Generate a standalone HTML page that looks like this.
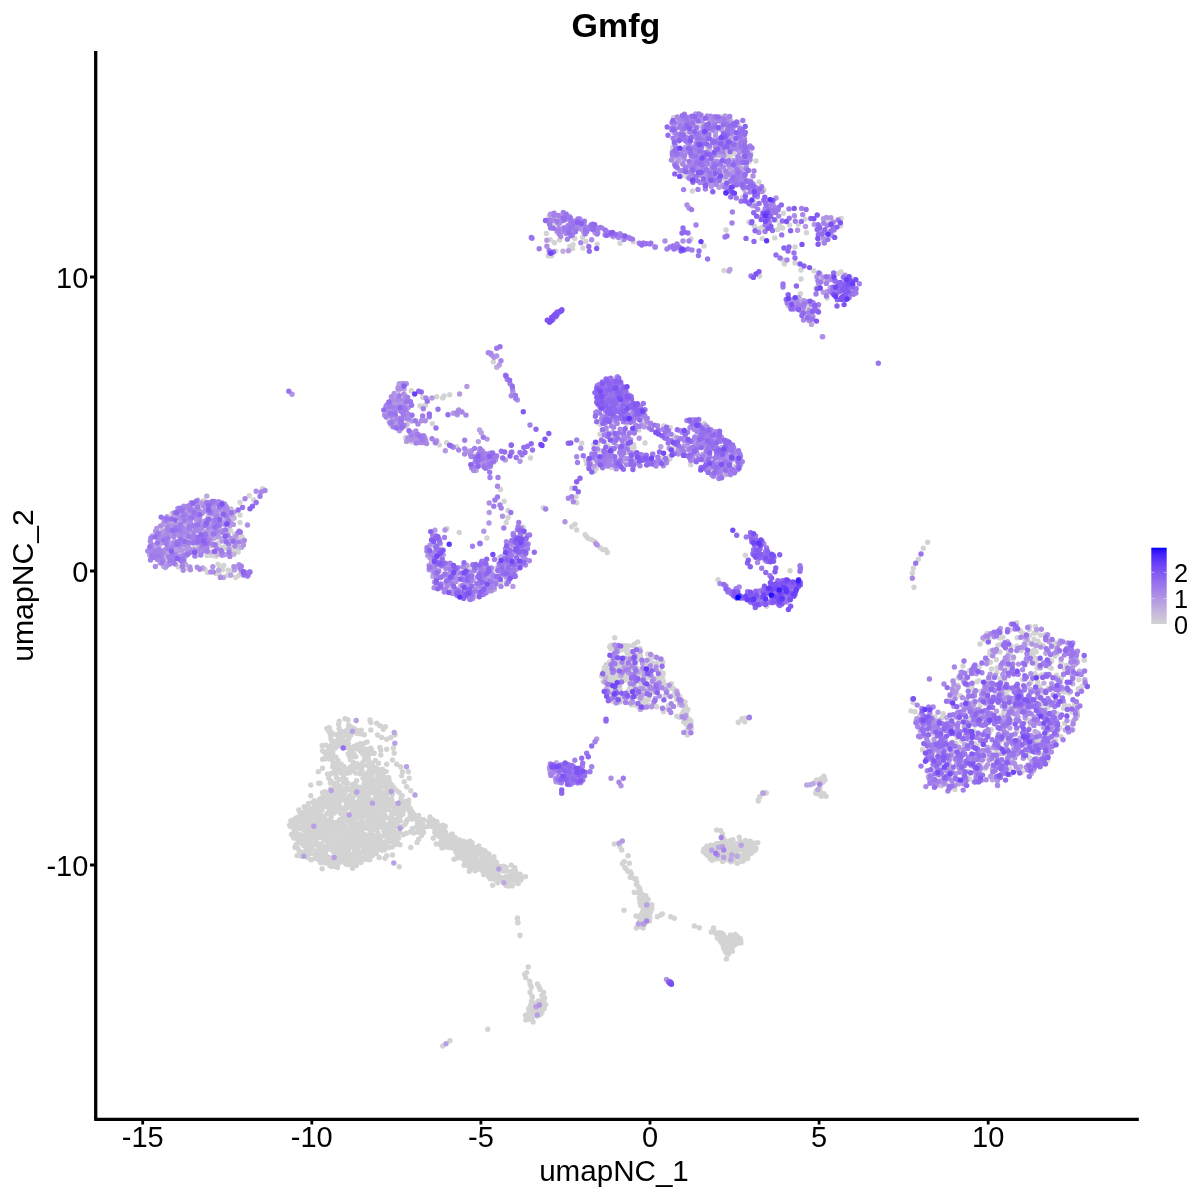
<!DOCTYPE html>
<html><head><meta charset="utf-8"><title>Gmfg</title>
<style>
html,body{margin:0;padding:0;background:#fff}
svg{display:block}
text{font-family:"Liberation Sans",sans-serif;fill:#000}
.pt path{fill:none;stroke-width:5.4;stroke-linecap:round}
.c0{stroke:#d3d3d3}.c1{stroke:#d0cdd5}.c2{stroke:#cdc6d7}.c3{stroke:#cac0d9}.c4{stroke:#c7badb}.c5{stroke:#c3b3dc}.c6{stroke:#c0adde}.c7{stroke:#bca7e0}.c8{stroke:#b9a0e2}.c9{stroke:#b59ae3}.c10{stroke:#b194e5}.c11{stroke:#ad8de6}.c12{stroke:#a887e8}.c13{stroke:#a481ea}.c14{stroke:#9f7aeb}.c15{stroke:#9a74ed}.c16{stroke:#956eee}.c17{stroke:#9067ef}.c18{stroke:#8a61f1}.c19{stroke:#845af2}.c20{stroke:#7e53f4}.c21{stroke:#774df5}.c22{stroke:#7046f6}.c23{stroke:#683ff8}.c24{stroke:#5f37f9}.c25{stroke:#5630fa}.c26{stroke:#4a27fb}.c27{stroke:#3d1efd}.c28{stroke:#2a12fe}.c29{stroke:#0000ff}
</style></head><body>
<svg width="1200" height="1200" viewBox="0 0 1200 1200">
<defs><linearGradient id="lg" x1="0" y1="0" x2="0" y2="1"><stop offset="0.000" stop-color="#0000ff"/><stop offset="0.050" stop-color="#3318fd"/><stop offset="0.100" stop-color="#4926fb"/><stop offset="0.150" stop-color="#5932fa"/><stop offset="0.200" stop-color="#673df8"/><stop offset="0.250" stop-color="#7248f6"/><stop offset="0.300" stop-color="#7c51f4"/><stop offset="0.350" stop-color="#855bf2"/><stop offset="0.400" stop-color="#8e65f0"/><stop offset="0.450" stop-color="#966eee"/><stop offset="0.500" stop-color="#9d77ec"/><stop offset="0.550" stop-color="#a480ea"/><stop offset="0.600" stop-color="#aa89e7"/><stop offset="0.650" stop-color="#b093e5"/><stop offset="0.700" stop-color="#b69ce3"/><stop offset="0.750" stop-color="#bba5e0"/><stop offset="0.800" stop-color="#c1aede"/><stop offset="0.850" stop-color="#c6b7db"/><stop offset="0.900" stop-color="#cac0d9"/><stop offset="0.950" stop-color="#cfcad6"/><stop offset="1.000" stop-color="#d3d3d3"/></linearGradient></defs>
<rect width="1200" height="1200" fill="#fff"/>
<g class="pt">
<path class="c0" d="M819.5 241.0h0M632.4 663.1h0M351.2 828.1h0M960.4 695.7h0M683.6 722.0h0M1048.3 666.4h0M342.7 854.0h0M349.8 747.9h0M719.0 182.2h0M373.8 792.1h0M622.6 699.5h0M353.3 732.1h0M603.7 671.2h0M355.1 794.9h0M221.4 504.6h0M676.7 699.6h0M826.2 796.2h0M361.7 824.6h0M434.5 825.5h0M729.9 190.2h0M1064.5 704.8h0M827.0 298.0h0M372.9 827.9h0M405.4 437.8h0M363.4 791.6h0M355.5 767.6h0M354.5 861.3h0M314.9 838.0h0M1083.9 660.1h0M645.7 704.3h0M341.6 799.9h0M196.2 555.7h0M323.8 856.4h0M335.0 795.7h0M642.9 895.6h0M345.9 801.2h0M458.5 857.0h0M350.4 854.5h0M636.0 916.0h0M472.0 588.3h0M348.5 816.7h0M1029.2 720.2h0M502.3 869.1h0M372.6 788.0h0M401.9 812.7h0M647.1 917.1h0M351.8 819.4h0M576.7 530.0h0M398.6 838.1h0M646.1 678.5h0M484.8 850.7h0M520.8 880.1h0M371.4 750.5h0M647.8 653.9h0M372.5 820.2h0M1061.3 677.9h0M334.9 861.2h0M959.5 721.6h0M330.9 731.7h0M333.9 829.0h0M205.1 569.4h0M322.3 835.6h0M688.1 722.3h0M331.0 844.4h0M184.1 517.3h0M523.1 527.2h0M758.3 801.0h0M546.4 233.4h0M380.0 815.7h0M1029.6 626.5h0M764.0 190.0h0M641.3 685.0h0M495.7 864.4h0M385.2 791.9h0M615.8 699.9h0M814.0 271.0h0M980.0 713.8h0M367.1 759.6h0M459.2 532.5h0M291.2 823.4h0M349.1 748.4h0M356.5 852.8h0M431.9 826.4h0M468.6 567.1h0M347.6 798.5h0M475.6 455.1h0M686.9 732.2h0M679.4 705.0h0M382.2 792.0h0M375.4 817.1h0M318.0 825.0h0M443.4 838.1h0M408.0 804.8h0M366.3 812.3h0M744.3 851.5h0M493.4 866.5h0M484.4 864.6h0M1034.8 658.3h0M539.0 1013.4h0M293.8 838.1h0M968.0 686.0h0M823.3 781.7h0M501.0 582.3h0M520.0 535.5h0M1041.1 705.8h0M373.5 845.1h0M480.8 861.7h0M364.2 834.2h0M231.1 521.2h0M972.9 689.5h0M338.9 831.7h0M349.9 799.9h0M350.2 857.1h0M358.9 767.4h0M306.6 816.1h0M305.6 831.5h0M339.1 788.9h0M1005.6 734.9h0M746.7 844.6h0M411.2 441.8h0M332.3 802.3h0M747.5 858.3h0M1001.9 718.2h0M825.0 780.0h0M370.2 769.7h0M334.7 800.0h0M1047.4 722.3h0M307.2 822.7h0M335.4 864.3h0M305.3 824.1h0M343.3 825.6h0M328.2 795.9h0M382.9 800.4h0M525.7 977.6h0M933.3 767.2h0M375.1 798.5h0M332.2 865.8h0M300.8 856.1h0M323.8 820.1h0M483.7 874.5h0M384.6 810.6h0M766.0 792.7h0M296.1 844.7h0M729.1 941.5h0M385.6 798.0h0M490.9 859.3h0M196.5 547.8h0M946.8 784.6h0M305.8 856.0h0M439.3 444.9h0M968.3 771.4h0M465.0 846.4h0M298.8 842.9h0M316.0 808.0h0M357.3 746.2h0M483.6 868.6h0M994.2 713.9h0M379.9 799.9h0M614.0 680.1h0M620.0 688.5h0M385.9 841.7h0M1034.0 701.8h0M359.3 813.4h0M360.6 765.1h0M358.4 791.7h0M722.9 173.3h0M820.0 787.5h0M1011.3 755.8h0M1069.0 693.1h0M382.6 842.2h0M374.7 767.4h0M713.9 851.2h0M1078.8 679.7h0M647.4 904.0h0M498.1 873.6h0M499.2 880.3h0M355.4 789.2h0M207.1 555.5h0M479.9 868.0h0M437.9 559.1h0M647.4 911.2h0M340.3 740.6h0M525.4 1015.2h0M690.9 721.0h0M721.8 177.4h0M389.8 799.7h0M744.5 842.7h0M300.9 821.5h0M439.2 831.5h0M305.7 846.9h0M660.6 671.1h0M340.1 797.9h0M358.2 749.2h0M614.7 637.7h0M337.6 745.2h0M649.3 696.4h0M716.1 856.0h0M538.9 1015.2h0M451.6 840.8h0M1010.3 707.0h0M369.3 839.5h0M352.9 840.6h0M249.2 495.8h0M361.0 733.9h0M347.2 829.5h0M681.9 151.9h0M433.2 838.3h0M344.4 793.8h0M331.8 821.6h0M338.4 785.6h0M318.7 804.1h0M304.5 811.7h0M737.2 863.2h0M477.6 855.1h0M358.0 807.8h0M503.3 871.1h0M648.2 699.8h0M1028.3 751.9h0M349.0 738.1h0M683.3 711.4h0M362.2 800.0h0M1007.1 667.6h0M380.0 747.5h0M367.6 813.9h0M393.6 409.3h0M337.5 763.9h0M335.9 858.3h0M406.0 426.3h0M352.3 816.7h0M336.4 777.8h0M766.3 793.0h0M744.7 721.7h0M1026.8 720.7h0M641.5 914.3h0M632.9 669.4h0M613.1 648.1h0M725.4 181.8h0M618.6 648.5h0M624.1 677.3h0M528.2 967.0h0M210.3 529.1h0M317.8 817.8h0M640.0 902.4h0M401.6 805.9h0M324.2 752.2h0M735.6 850.9h0M366.9 783.9h0M820.8 792.5h0M328.5 833.7h0M478.7 845.9h0M387.0 837.4h0M724.0 474.0h0M320.2 851.7h0M361.3 820.1h0M1009.0 716.9h0M523.7 534.3h0M626.1 868.7h0M170.9 521.9h0M572.6 248.6h0M309.3 811.4h0M314.0 811.3h0M177.7 554.3h0M207.6 572.6h0M401.6 401.4h0M404.2 781.7h0M374.2 753.3h0M512.4 570.1h0M226.3 539.5h0M330.6 825.8h0M227.6 575.3h0M362.0 787.9h0M735.9 944.0h0M640.9 669.7h0M402.5 808.4h0M338.8 802.2h0M726.4 958.9h0M713.1 855.4h0M222.5 569.5h0M472.1 842.6h0M337.2 783.6h0M613.9 677.1h0M198.5 554.3h0M333.7 806.8h0M357.7 834.4h0M382.6 783.4h0M745.4 853.8h0M371.2 837.5h0M498.3 584.5h0M614.3 844.0h0M588.0 538.3h0M178.3 552.0h0M996.2 695.9h0M342.6 833.1h0M385.4 783.0h0M604.7 673.3h0M378.0 833.0h0M349.0 862.2h0M623.8 645.4h0M822.5 782.5h0M383.9 835.4h0M357.8 749.0h0M352.4 791.1h0M319.7 843.9h0M663.3 680.6h0M554.5 242.8h0M369.9 784.1h0M520.0 935.5h0M771.4 216.1h0M342.0 850.8h0M759.0 182.0h0M635.3 665.5h0M396.8 818.8h0M969.3 719.6h0M294.8 834.3h0M343.5 808.7h0M413.8 814.4h0M482.3 870.4h0M823.8 776.2h0M340.1 737.4h0M363.4 837.2h0M386.7 855.8h0M721.5 846.6h0M681.8 175.7h0M345.1 718.8h0M380.7 777.3h0M324.8 791.8h0M918.3 559.3h0M1042.0 692.7h0M719.5 854.4h0M224.4 548.4h0M691.0 239.0h0M365.9 789.6h0M821.7 779.2h0M640.2 890.5h0M670.2 427.7h0M1003.7 712.0h0M725.9 943.4h0M540.8 1013.9h0M302.9 840.6h0M607.3 671.3h0M639.6 921.8h0M722.2 841.9h0M370.8 730.0h0M486.4 867.6h0M350.2 728.7h0M1042.7 715.6h0M723.6 934.7h0M366.1 824.2h0M373.6 813.0h0M371.3 809.1h0M377.3 797.8h0M378.1 784.5h0M639.8 653.7h0M310.2 846.4h0M409.2 778.3h0M948.1 721.4h0M690.8 464.7h0M634.6 457.5h0M1009.8 768.6h0M733.4 846.1h0M1069.0 706.3h0M310.4 831.9h0M783.0 260.0h0M640.1 894.9h0M649.5 914.6h0M351.5 861.0h0M672.4 450.4h0M348.8 733.4h0M495.5 870.0h0M573.2 229.5h0M486.5 873.1h0M312.5 813.0h0M738.8 125.7h0M1064.9 692.0h0M540.2 1007.8h0M576.0 496.7h0M343.3 847.7h0M672.7 147.2h0M497.9 876.6h0M633.6 444.6h0M506.2 522.5h0M732.3 854.1h0M332.3 758.6h0M994.3 759.3h0M726.6 953.3h0M581.7 443.3h0M716.0 859.0h0M232.4 547.2h0M531.6 1016.4h0M223.8 565.5h0M520.0 874.3h0M841.1 218.5h0M359.2 823.7h0M385.0 777.5h0M330.4 789.0h0M221.9 547.4h0M490.0 869.9h0M326.0 835.5h0M514.7 867.6h0M346.7 745.8h0M650.0 659.5h0M322.5 768.3h0M355.2 830.8h0M676.7 716.3h0M1082.6 685.9h0M472.1 574.2h0M343.8 856.0h0M361.2 748.0h0M444.0 396.0h0M681.7 714.7h0M485.9 852.5h0M591.5 539.6h0M998.6 754.3h0M351.2 804.5h0M1008.5 705.5h0M709.1 132.0h0M406.5 801.9h0M622.7 669.0h0M724.2 839.2h0M953.6 756.4h0M765.3 225.5h0M365.8 845.8h0M582.6 237.2h0M333.2 762.8h0M789.6 225.0h0M357.3 730.4h0M319.1 821.6h0M983.0 722.8h0M956.0 743.4h0M366.7 859.2h0M647.2 425.9h0M710.4 848.0h0M213.8 517.0h0M369.9 770.7h0M345.1 837.3h0M613.3 403.4h0M303.5 826.3h0M1040.4 635.3h0M323.3 846.1h0M231.4 551.7h0M410.1 808.3h0M297.6 828.6h0M492.9 869.2h0M618.1 666.9h0M719.9 843.3h0M488.0 863.1h0M729.5 951.4h0M340.9 813.8h0M710.1 858.5h0M957.1 689.3h0M306.4 813.5h0M704.0 246.0h0M643.1 676.7h0M311.7 819.0h0M693.7 134.3h0M366.2 800.7h0M1001.0 644.1h0M375.5 760.4h0M477.6 869.4h0M1040.5 644.4h0M979.8 701.4h0M649.7 918.0h0M1022.2 772.0h0M321.9 806.9h0M951.7 757.7h0M312.0 843.6h0M385.3 726.7h0M686.8 711.5h0M380.8 750.0h0M740.9 164.2h0M457.2 854.1h0M451.7 847.9h0M670.7 916.7h0M211.6 555.5h0M390.8 737.5h0M828.3 220.5h0M653.2 656.9h0M1037.1 668.0h0M913.3 568.3h0M343.3 779.8h0M309.0 807.8h0M348.6 846.9h0M355.8 814.4h0M756.0 161.0h0M716.1 933.7h0M1007.0 695.4h0M457.1 839.9h0M336.8 800.1h0M974.9 743.6h0M710.0 851.6h0M363.8 849.9h0M988.9 639.8h0M422.8 824.4h0M671.5 683.7h0M339.3 841.7h0M292.9 820.3h0M333.7 852.0h0M528.2 1015.5h0M410.8 790.8h0M728.6 156.8h0M230.3 541.1h0M418.2 831.0h0M627.9 871.6h0M699.3 927.7h0M732.1 947.6h0M458.7 850.0h0M377.6 769.0h0M817.5 793.8h0M338.5 740.4h0M758.3 800.0h0M340.1 826.3h0M751.8 853.1h0M673.4 117.6h0M517.7 877.2h0M319.6 827.1h0M328.1 835.7h0M313.8 845.0h0M377.5 840.5h0M387.2 834.4h0M379.4 796.7h0M314.3 805.7h0M463.0 855.9h0M434.8 832.3h0M586.3 536.2h0M646.8 906.9h0M499.8 866.5h0M729.3 859.9h0M661.3 458.5h0M1064.6 723.4h0M544.5 997.6h0M469.8 846.2h0M423.6 827.4h0M372.2 802.9h0M427.7 826.4h0M728.1 946.9h0M744.2 848.5h0M740.4 855.6h0M496.5 871.8h0M610.9 648.7h0M1076.5 718.2h0M363.5 774.3h0M544.2 1008.8h0M626.8 645.8h0M242.2 537.0h0M713.7 848.4h0M317.1 831.2h0M454.0 859.3h0M674.3 918.3h0M1047.3 733.0h0M325.5 758.7h0M473.0 867.9h0M349.3 829.3h0M460.9 855.2h0M775.7 220.0h0M544.1 1008.1h0M719.5 932.6h0M479.7 866.0h0M350.3 747.7h0M337.7 766.8h0M673.7 695.3h0M610.7 436.6h0M714.5 931.8h0M321.6 825.6h0M748.2 846.1h0M355.9 756.8h0M705.8 853.7h0M320.3 813.9h0M383.3 729.2h0M448.7 839.8h0M297.0 837.8h0M740.6 858.8h0M758.0 229.0h0M624.0 662.0h0M330.0 837.0h0M378.2 824.6h0M389.4 847.5h0M1049.6 745.9h0M442.7 1046.0h0M739.5 170.2h0M433.6 822.4h0M719.7 858.6h0M363.6 765.3h0M510.9 871.5h0M638.8 429.9h0M685.0 702.0h0M674.8 690.4h0M479.0 572.2h0M360.3 743.6h0M383.5 780.8h0M1071.2 652.0h0M345.6 809.1h0M377.0 811.0h0M962.8 711.4h0M529.1 1011.6h0M1069.6 671.9h0M372.1 806.4h0M537.1 1003.8h0M721.6 933.1h0M387.2 847.1h0M987.1 633.5h0M493.3 871.7h0M308.2 848.9h0M346.1 805.8h0M981.7 756.3h0M374.9 771.4h0M1008.1 689.8h0M342.6 836.5h0M720.8 830.8h0M318.3 857.9h0M303.9 829.7h0M342.3 738.6h0M990.4 662.2h0M999.9 652.0h0M388.3 792.8h0M382.9 819.7h0M347.1 820.8h0M432.4 423.6h0M643.9 699.5h0M319.1 860.3h0M476.7 596.3h0M381.8 817.7h0M755.0 850.4h0M724.9 937.9h0M325.9 745.3h0M927.7 542.3h0M627.0 652.8h0M564.7 231.4h0M342.4 839.4h0M716.7 130.1h0M342.1 731.8h0M705.2 851.1h0M510.4 884.8h0M310.8 814.9h0M380.1 788.0h0M371.2 841.9h0M700.1 156.9h0M1064.7 669.1h0M689.1 719.3h0M312.9 836.7h0M321.6 828.3h0M539.9 1003.2h0M729.9 857.9h0M1078.2 689.0h0M617.1 670.0h0M943.3 713.6h0M362.7 762.8h0M291.5 834.5h0M646.3 898.0h0M543.7 1001.3h0M442.0 848.0h0M393.7 803.3h0M977.1 681.8h0M951.0 723.6h0M292.9 826.2h0M669.5 456.7h0M720.9 851.3h0M662.3 914.0h0M289.6 825.3h0M307.3 852.8h0M648.9 908.6h0M1011.0 646.3h0M370.4 812.0h0M526.6 972.6h0M468.0 861.7h0M737.1 853.5h0M936.0 771.2h0M321.9 810.3h0M504.5 879.7h0M735.6 857.8h0M616.7 665.0h0M716.0 850.6h0M234.0 518.4h0M524.7 974.4h0M361.5 792.7h0M364.5 749.0h0M1022.7 698.7h0M346.7 732.4h0M308.5 826.7h0M348.0 720.0h0M669.9 459.1h0M704.1 446.7h0M996.6 751.3h0M725.1 132.5h0M525.9 1019.9h0M324.0 816.4h0M398.9 820.7h0M472.2 845.9h0M326.9 820.1h0M378.3 835.8h0M335.7 773.8h0M302.3 817.4h0M641.5 700.4h0M363.9 825.6h0M738.9 139.2h0M377.6 776.6h0M359.0 836.2h0M302.8 837.4h0M726.9 846.7h0M355.6 842.7h0M307.8 854.9h0M312.6 831.9h0M442.5 557.3h0M980.1 706.5h0M997.0 668.0h0M643.3 420.2h0M397.2 842.7h0M373.8 835.4h0M619.3 668.8h0M730.1 845.8h0M329.2 727.8h0M504.2 501.2h0M748.4 842.5h0M455.9 851.9h0M633.2 241.7h0M575.0 524.3h0M370.0 847.6h0M530.3 984.8h0M334.5 745.9h0M520.0 935.3h0M1039.9 686.6h0M493.0 463.1h0M1041.6 765.0h0M218.0 564.1h0M1071.9 711.7h0M1077.4 712.5h0M343.4 819.7h0M332.9 752.0h0M378.6 790.8h0M353.0 863.6h0M326.9 728.5h0M343.2 816.3h0M612.3 701.0h0M363.6 844.8h0M400.2 816.7h0M932.3 718.7h0M486.2 869.9h0M387.4 830.2h0M357.4 825.7h0M731.2 130.4h0M450.8 592.4h0M588.7 466.4h0M530.5 458.0h0M365.1 827.6h0M1059.9 727.7h0M345.7 731.0h0M466.0 854.2h0M216.0 573.5h0M707.4 851.3h0M320.1 855.2h0M639.6 694.5h0M662.7 662.0h0M326.1 838.9h0M816.2 791.2h0M377.8 807.3h0M303.7 845.5h0M362.9 807.5h0M370.4 843.8h0M730.3 840.6h0M736.6 941.2h0M393.7 839.7h0M327.6 831.3h0M1071.5 670.5h0M339.7 819.7h0M149.3 551.9h0M378.9 773.2h0M494.1 583.5h0M351.6 727.4h0M631.8 704.9h0M353.2 828.7h0M574.8 238.5h0M331.9 742.3h0M1029.6 758.0h0M362.4 773.4h0M637.6 659.8h0M461.8 844.0h0M644.5 924.4h0M306.3 850.4h0M1038.8 676.2h0M364.7 842.1h0M451.2 834.1h0M916.5 723.3h0M639.5 888.4h0M747.7 596.5h0M740.8 941.0h0M1011.8 720.7h0M393.8 842.8h0M620.1 435.3h0M420.7 829.4h0M349.1 789.8h0M645.5 662.4h0M1006.6 739.6h0M230.8 571.1h0M323.3 837.9h0M301.5 843.2h0M370.2 853.0h0M412.6 812.8h0M218.0 546.8h0M382.0 805.1h0M629.3 646.1h0M467.3 842.2h0M1030.7 682.2h0M354.9 792.4h0M368.4 758.9h0M492.7 885.3h0M362.9 754.3h0M673.4 688.4h0M351.8 833.9h0M243.5 575.6h0M972.9 772.7h0M262.5 488.8h0M485.2 862.5h0M296.7 826.7h0M401.7 775.8h0M957.1 737.7h0M643.5 917.3h0M434.4 827.6h0M451.3 588.2h0M654.9 464.2h0M367.3 786.1h0M454.5 841.4h0M740.8 942.9h0M645.4 922.6h0M914.0 587.3h0M1056.6 675.1h0M240.0 515.0h0M997.3 726.1h0M341.1 735.2h0M327.1 847.0h0M537.4 984.0h0M519.8 876.6h0M363.8 743.4h0M308.2 817.7h0M607.0 679.3h0M368.0 772.2h0M372.5 848.3h0M391.0 841.3h0M607.5 673.5h0M487.0 538.0h0M376.1 812.8h0M408.3 771.7h0M559.6 240.1h0M312.9 808.3h0M339.2 804.8h0M468.2 866.1h0M818.8 781.2h0M611.3 680.4h0M326.6 850.1h0M821.7 795.8h0M343.4 777.0h0M716.2 848.6h0M348.6 864.6h0M651.8 904.6h0M634.3 878.5h0M337.3 744.5h0M406.1 821.9h0M308.7 830.2h0M795.0 247.0h0M355.9 745.7h0M1037.4 659.0h0M554.8 217.9h0M240.0 502.5h0M350.5 759.7h0M732.2 950.7h0M377.0 847.4h0M211.6 545.9h0M369.3 780.3h0M642.2 920.9h0M732.8 839.8h0M629.2 676.4h0M350.7 751.4h0M375.9 837.0h0M386.8 779.9h0M628.5 680.0h0M1029.3 642.8h0M1041.8 675.0h0M744.4 167.8h0M361.4 846.1h0M991.3 729.6h0M593.8 444.4h0M440.7 844.9h0M724.6 174.0h0M373.9 815.2h0M172.0 513.5h0M718.0 579.7h0M305.1 818.3h0M352.5 858.6h0M641.4 922.8h0M380.1 838.8h0M403.3 834.8h0M417.5 441.5h0M352.0 786.4h0M421.7 835.4h0M317.9 845.2h0M629.7 688.2h0M532.1 1007.2h0M736.5 856.0h0M364.5 775.4h0M1017.2 637.8h0M645.8 895.8h0M733.1 850.0h0M316.2 812.3h0M506.6 580.4h0M367.0 774.9h0M372.7 773.3h0M347.9 803.1h0M1057.6 731.0h0M345.9 843.3h0M952.4 770.6h0M339.2 862.8h0M634.0 447.5h0M395.0 735.0h0M445.4 565.9h0M720.4 940.9h0M422.1 821.4h0M294.7 836.3h0M951.8 695.1h0M715.9 145.0h0M378.5 763.3h0M743.3 720.0h0M706.9 846.3h0M393.3 748.3h0M358.8 840.2h0M304.6 852.9h0M364.8 759.2h0M357.6 847.9h0M629.4 863.3h0M816.0 288.0h0M310.0 840.2h0M348.8 768.8h0M321.5 848.6h0M419.4 818.4h0M350.9 845.8h0M1054.9 656.3h0M236.9 544.1h0M356.7 823.2h0M643.3 908.0h0M308.2 835.3h0M732.5 940.6h0M687.9 709.5h0M742.5 197.1h0M353.5 762.7h0M620.4 698.6h0M329.5 857.7h0M349.9 838.5h0M481.4 859.6h0M361.5 766.5h0M722.5 849.4h0M759.7 796.7h0M470.1 861.8h0M1061.0 736.8h0M1066.1 665.4h0M538.0 1001.1h0M607.3 552.5h0M940.7 777.2h0M327.4 856.8h0M413.8 833.0h0M365.0 804.0h0M339.2 800.0h0M723.3 946.7h0M745.0 718.3h0M339.6 828.8h0M1012.8 659.2h0M774.8 237.9h0M644.2 690.1h0M456.7 446.7h0M367.1 742.0h0M488.5 876.3h0M645.9 666.5h0M329.0 862.8h0M330.9 814.6h0M632.8 451.9h0M620.2 402.7h0M337.2 848.6h0M310.7 809.5h0M660.4 682.1h0M346.3 790.3h0M1025.6 745.7h0M805.1 219.1h0M403.3 804.8h0M1002.0 770.0h0M517.7 874.1h0M332.3 834.7h0M747.8 858.5h0M368.7 766.1h0M361.6 773.0h0M1022.4 679.6h0M411.3 390.7h0M750.3 841.1h0M1028.9 654.8h0M1003.7 700.6h0M686.7 132.0h0M665.3 695.7h0M461.4 596.3h0M987.6 693.4h0M1080.8 687.6h0M379.3 812.7h0M365.7 756.5h0M388.6 777.4h0M735.4 170.2h0M422.4 821.8h0M1015.7 711.2h0M442.7 825.3h0M733.7 153.9h0M348.2 753.6h0M673.3 435.6h0M657.0 663.2h0M609.9 669.2h0M338.9 779.4h0M383.7 793.8h0M1016.9 731.2h0M376.3 853.2h0M365.2 854.0h0M469.8 843.2h0M472.3 848.4h0M441.8 846.0h0M961.7 679.1h0M734.9 852.8h0M534.1 1004.5h0M335.5 768.4h0M346.5 816.4h0M487.7 860.2h0M1030.0 727.2h0M405.1 824.3h0M531.4 987.2h0M362.8 839.7h0M383.5 826.1h0M541.8 1012.3h0M490.0 878.7h0M531.5 1001.2h0M339.0 846.5h0M727.7 938.0h0M356.7 817.5h0M329.0 813.7h0M349.7 814.8h0M348.2 807.5h0M349.7 795.6h0M330.8 800.3h0M482.9 863.1h0M312.9 827.5h0M322.5 759.2h0M386.2 771.6h0M344.1 766.7h0M623.5 649.1h0M651.0 905.9h0M1035.4 626.4h0M379.4 842.0h0M331.4 828.4h0M738.3 722.3h0M309.7 822.3h0M359.7 787.3h0M346.0 841.3h0M961.7 741.1h0M218.9 542.4h0M516.2 878.5h0M758.3 800.0h0M330.3 806.3h0M634.3 892.3h0M737.2 848.5h0M345.8 848.0h0M219.6 528.0h0M643.3 899.1h0M182.4 537.2h0M358.6 827.9h0M329.8 749.5h0M372.5 763.0h0M374.7 808.6h0M748.0 855.6h0M377.5 735.0h0M297.2 817.4h0M324.8 757.9h0M543.1 1005.1h0M331.5 748.6h0M358.9 845.7h0M470.7 858.6h0M691.3 728.0h0M376.5 801.0h0M636.2 928.0h0M694.3 926.0h0M553.9 224.3h0M1084.4 660.2h0M704.0 848.9h0M696.1 158.4h0M1047.8 760.4h0M162.7 529.0h0M648.1 899.4h0M469.3 871.3h0M658.3 659.5h0M359.4 799.5h0M621.7 850.0h0M410.3 815.8h0M739.2 837.1h0M219.7 566.6h0M336.6 832.3h0M628.7 690.7h0M759.6 276.0h0M524.3 536.0h0M316.6 850.8h0M184.3 550.9h0M1034.0 633.3h0M735.2 934.5h0M388.2 809.5h0M728.1 848.5h0M328.9 731.6h0M235.9 551.8h0M330.7 781.0h0M612.0 661.3h0M959.2 769.9h0M373.4 822.2h0M179.8 553.1h0M817.5 308.0h0M239.2 538.3h0M386.4 817.6h0M466.6 851.8h0M768.2 212.6h0M301.4 835.0h0M475.3 858.4h0M702.2 154.3h0M668.1 708.0h0M953.5 776.3h0M331.8 745.3h0M452.4 834.1h0M446.8 528.8h0M1062.3 691.4h0M637.6 916.6h0M467.9 857.7h0M1005.8 773.7h0M619.6 658.1h0M1034.5 649.6h0M358.6 811.5h0M464.0 865.3h0M533.1 1021.9h0M663.3 673.1h0M969.6 779.0h0M333.9 823.5h0M335.3 747.7h0M742.9 846.7h0M466.6 569.3h0M795.2 304.9h0M475.6 849.4h0M343.5 745.4h0M371.0 785.9h0M404.7 808.4h0M1046.4 755.2h0M536.8 1013.7h0M325.4 863.1h0M980.7 742.3h0M375.6 825.6h0M436.6 568.3h0M348.8 725.1h0M354.8 729.0h0M841.0 272.0h0M749.0 162.0h0M203.6 500.6h0M335.6 741.2h0M716.7 830.0h0M399.2 810.9h0M941.9 717.9h0M624.0 910.3h0M508.1 882.3h0M358.2 789.1h0M345.9 779.5h0M958.0 685.2h0M960.0 719.6h0M304.2 806.7h0M318.7 833.3h0M396.4 810.5h0M1063.7 708.3h0M718.4 856.5h0M324.6 858.9h0M317.3 838.3h0M805.7 311.0h0M1005.7 690.3h0M238.2 551.9h0M219.3 574.1h0M357.7 765.5h0M356.1 850.3h0M437.4 827.7h0M618.7 404.3h0M721.7 858.6h0M382.7 772.9h0M726.0 230.0h0M491.2 876.3h0M367.8 793.2h0M418.6 832.3h0M493.3 361.7h0M739.0 847.4h0M707.4 855.4h0M408.4 803.9h0M407.8 819.1h0M685.0 709.4h0M638.2 886.4h0M721.3 116.8h0M329.8 865.6h0M188.4 514.0h0M600.0 434.2h0M391.4 816.1h0M348.5 853.2h0M646.8 671.3h0M363.9 796.3h0M525.5 876.6h0M358.1 859.0h0M711.0 845.2h0M339.1 728.4h0M234.6 534.2h0M610.3 676.6h0M462.8 847.7h0M644.4 692.7h0M660.7 915.0h0M926.8 720.0h0M740.3 938.7h0M390.6 836.9h0M915.8 720.6h0M687.6 729.7h0M325.2 851.6h0M963.0 666.0h0M476.3 847.4h0M586.0 241.5h0M1018.8 744.3h0M379.0 809.2h0M334.4 866.3h0M980.0 644.0h0M389.0 786.5h0M338.8 736.7h0M376.7 723.3h0M622.5 863.8h0M964.7 736.7h0M718.9 849.1h0M1005.5 741.3h0M369.7 859.7h0M529.7 981.3h0M349.9 835.2h0M333.4 792.2h0M600.9 421.0h0M613.4 421.5h0M987.9 698.8h0M987.3 758.6h0M490.1 862.8h0M391.7 812.2h0M359.8 851.9h0M616.8 697.2h0M326.3 797.1h0M403.2 811.1h0M615.4 657.4h0M1021.2 650.5h0M728.3 841.4h0M372.4 753.3h0M470.1 841.1h0M554.6 222.5h0M551.6 255.8h0M821.2 778.8h0M348.2 857.2h0M724.2 844.3h0M497.9 882.8h0M345.2 811.6h0M335.8 804.1h0M377.2 818.5h0M350.9 825.1h0M343.5 859.2h0M997.4 785.3h0M339.3 733.5h0M651.9 908.7h0M178.4 567.0h0M506.1 870.7h0M334.9 808.7h0M339.7 860.1h0M457.3 848.3h0M518.0 922.5h0M339.2 792.3h0M711.9 860.2h0M472.4 857.5h0M336.0 789.3h0M436.9 821.8h0M428.5 821.5h0M322.2 745.5h0M728.4 954.0h0M400.0 832.5h0M339.0 853.1h0M361.1 862.6h0M585.8 460.0h0M642.3 894.5h0M512.2 885.9h0M686.2 724.2h0M321.7 797.9h0M333.4 841.8h0M386.7 749.2h0M449.7 394.7h0M365.8 851.5h0M338.3 796.5h0M456.1 842.8h0M800.1 299.5h0M493.4 874.8h0M703.2 851.4h0M544.1 999.3h0M368.7 749.1h0M1041.7 700.7h0M743.6 855.5h0M724.0 853.4h0M362.6 859.9h0M443.4 832.5h0M290.7 826.5h0M375.1 829.8h0M446.7 442.7h0M728.7 177.3h0M341.0 787.4h0M331.0 739.1h0M240.0 522.5h0M381.9 850.2h0M969.5 670.6h0M1008.7 651.4h0M360.1 809.1h0M389.4 828.3h0M292.5 820.8h0M341.2 764.1h0M482.0 856.1h0M216.1 545.4h0M476.7 860.3h0M301.3 828.7h0M323.6 797.5h0M973.1 702.0h0M625.3 664.9h0M402.2 795.6h0M368.0 855.0h0M349.8 756.8h0M941.3 762.0h0M652.9 687.0h0M616.6 689.1h0M212.6 539.4h0M239.1 575.2h0M396.5 832.5h0M742.0 718.7h0M353.8 848.2h0M658.1 676.9h0M333.0 810.3h0M582.9 248.1h0M726.5 949.4h0M609.8 686.5h0M464.6 859.5h0M730.3 158.8h0M760.0 796.7h0M371.2 850.6h0M640.7 905.4h0M352.0 808.5h0M531.8 1011.6h0M762.8 211.6h0M341.5 745.2h0M362.1 794.8h0M1016.7 646.3h0M1074.7 704.2h0M820.4 274.3h0M306.6 833.3h0M506.6 876.2h0M341.9 828.1h0M958.0 678.0h0M518.3 879.2h0M441.2 842.0h0M480.0 850.8h0M372.4 769.8h0M607.6 445.4h0M228.2 570.1h0M733.9 942.9h0M315.3 802.7h0M720.8 938.3h0M384.9 806.0h0M336.4 743.7h0M605.5 670.0h0M357.2 745.0h0M385.0 847.2h0M336.2 811.5h0M379.7 804.3h0M362.1 831.9h0M687.1 177.0h0M432.1 556.7h0M380.3 827.0h0M320.2 801.9h0M509.4 877.9h0M342.8 822.5h0M724.9 847.2h0M389.9 823.6h0M852.0 288.3h0M632.3 686.5h0M1049.7 660.2h0M369.0 817.7h0M503.6 866.3h0M358.5 801.4h0M348.4 743.9h0M724.2 949.3h0M189.4 508.2h0M343.3 830.2h0M467.4 849.0h0M540.2 989.4h0M550.3 239.7h0M375.8 792.4h0M987.0 687.3h0M323.2 861.2h0M569.8 246.4h0M1036.2 651.8h0M378.3 849.2h0M757.8 842.7h0M412.3 828.6h0M460.0 852.4h0M761.7 227.4h0M766.7 606.3h0M634.6 643.9h0M611.2 645.3h0M950.2 698.1h0M334.6 787.3h0M518.2 883.6h0M445.6 834.4h0M603.2 681.5h0M329.0 804.5h0M510.1 875.1h0M335.2 847.0h0M806.5 232.7h0M606.1 664.8h0M332.3 863.7h0M815.0 782.5h0M425.3 405.3h0M384.6 849.7h0M494.2 878.7h0M640.4 704.9h0M440.5 828.8h0M1036.2 663.8h0M600.2 424.5h0M366.4 840.4h0M355.0 784.0h0M294.9 847.2h0M974.1 730.9h0M371.9 776.3h0M314.9 854.7h0M516.9 883.0h0M552.8 770.2h0M735.6 843.8h0M636.0 878.8h0M156.6 546.0h0M406.7 786.7h0M387.3 799.4h0M379.2 857.5h0M457.3 858.0h0M604.4 667.6h0M754.6 843.3h0M748.0 852.2h0M389.0 826.3h0M385.0 815.3h0M303.4 820.9h0M311.1 859.8h0M431.0 822.1h0M315.2 820.0h0M344.3 741.7h0M323.9 840.1h0M644.2 913.9h0M490.3 867.8h0M1004.7 679.8h0M298.0 848.7h0M725.2 857.6h0M724.7 860.0h0M422.7 397.3h0M438.4 574.0h0M338.6 772.6h0M649.9 670.1h0M732.3 858.8h0M1049.4 639.7h0M735.5 135.8h0M511.2 865.1h0M299.1 820.1h0M386.7 764.2h0M592.3 459.9h0M733.0 134.8h0M449.0 842.4h0M353.3 864.2h0M472.4 855.2h0M366.9 821.1h0M734.7 466.8h0M621.6 665.0h0M490.8 873.7h0M337.4 746.2h0M700.7 125.0h0M345.3 813.9h0M605.8 549.7h0M455.6 846.9h0M377.1 779.8h0M636.3 884.3h0M333.0 734.0h0M1020.4 630.7h0M649.4 690.0h0M369.4 845.6h0M728.3 182.2h0M629.7 400.4h0M1069.7 727.3h0M624.4 680.3h0M355.9 808.9h0M306.7 842.1h0M643.2 905.9h0M307.4 806.3h0M733.5 856.8h0M397.7 422.6h0M738.3 722.5h0M386.2 808.3h0M922.5 749.7h0M693.9 175.6h0M627.0 441.4h0M392.7 814.1h0M440.9 826.5h0M800.4 293.6h0M660.5 678.3h0M470.5 868.0h0M309.7 820.2h0M692.4 191.0h0M1048.3 688.3h0M351.3 812.7h0M360.9 751.8h0M368.6 807.3h0M629.5 652.2h0M386.9 806.2h0M463.5 841.2h0M313.1 802.0h0M997.8 645.3h0M1038.0 641.1h0M467.9 855.1h0M373.1 781.9h0M791.2 302.2h0M346.4 787.6h0M347.9 837.7h0M366.8 755.8h0M365.3 848.4h0M361.4 842.6h0M346.9 741.5h0M336.0 757.1h0M690.8 723.4h0M600.3 547.7h0M729.5 449.4h0M627.5 452.7h0M330.2 794.7h0M531.8 1018.4h0M364.5 857.9h0M494.6 861.0h0M380.4 847.1h0M369.9 768.7h0M368.7 763.1h0M733.3 185.0h0M465.5 843.9h0M334.5 813.0h0M652.2 662.8h0M1043.1 645.6h0M230.4 530.5h0M443.4 844.1h0M396.7 764.2h0M350.1 732.3h0M1013.2 747.4h0M359.2 831.7h0M307.7 845.2h0M1044.5 715.7h0M332.5 753.8h0M636.0 705.1h0M303.5 814.2h0M352.1 757.1h0M751.0 154.0h0M645.3 663.3h0M628.1 855.7h0M445.3 831.6h0M474.3 864.4h0M726.9 856.1h0M638.2 696.7h0M330.4 783.1h0M362.3 804.2h0M911.1 710.9h0M322.5 750.8h0M978.9 680.6h0M295.3 821.6h0M315.7 840.6h0M662.7 675.8h0M630.1 667.3h0M741.1 849.7h0M801.0 279.0h0M496.1 880.0h0M442.7 829.0h0M540.0 1000.6h0M450.3 575.1h0M541.9 995.3h0M529.9 1018.5h0M649.5 920.9h0M410.8 847.5h0M338.5 737.2h0M537.3 1008.7h0M331.0 830.5h0M195.8 525.5h0M366.9 752.6h0M323.6 822.9h0M539.9 1011.7h0M330.7 773.8h0M600.0 450.7h0M400.0 844.7h0M386.7 795.6h0M354.6 822.1h0M487.7 1029.3h0M311.3 838.3h0M436.7 396.7h0M824.2 776.7h0M730.3 939.6h0M343.5 843.3h0M365.2 809.8h0M736.4 938.5h0M356.6 780.7h0M360.0 796.6h0M359.2 815.8h0M615.2 660.1h0M650.5 911.9h0M402.3 809.3h0M475.0 870.7h0M496.6 862.5h0M645.6 905.1h0M503.7 566.8h0M642.7 911.5h0M300.0 812.5h0M348.6 850.2h0M795.0 263.0h0M375.8 845.7h0M345.3 826.0h0M756.1 848.2h0M927.6 710.2h0M313.1 834.2h0M1056.7 654.3h0M440.2 833.4h0M762.2 238.6h0M253.8 500.0h0M382.3 769.3h0M680.2 162.9h0M1041.0 753.8h0M380.8 824.1h0M336.7 744.4h0M626.2 675.4h0M328.7 746.7h0M399.2 866.7h0M381.7 737.5h0M310.7 826.5h0M369.9 835.5h0M1037.6 682.1h0M745.3 555.3h0M312.6 816.1h0M396.7 790.8h0M996.7 672.6h0M514.3 877.2h0M356.3 865.4h0M363.2 812.8h0M346.1 773.2h0M337.5 839.5h0M754.0 201.9h0M382.6 775.4h0M385.0 823.8h0M1035.4 739.4h0M508.0 564.2h0M320.0 783.3h0M488.5 857.1h0M606.9 666.8h0M763.3 218.4h0M459.4 844.0h0M649.6 677.3h0M516.7 552.7h0M556.7 232.0h0M376.1 788.6h0M386.7 739.2h0M611.1 688.5h0M1000.9 716.1h0M439.7 543.0h0M342.4 861.6h0M968.9 739.8h0M348.4 728.1h0M1047.6 724.3h0M734.6 454.3h0M290.9 820.6h0M621.6 677.2h0M989.7 654.5h0M370.0 720.0h0M329.0 809.9h0M940.9 786.0h0M618.6 673.7h0M1045.5 720.7h0M713.5 928.0h0M733.7 938.9h0M627.1 650.3h0M639.3 898.3h0M734.8 937.3h0M333.6 783.3h0M317.2 815.3h0M527.7 1019.4h0M724.5 128.5h0M363.0 778.2h0M387.0 843.9h0M410.2 832.0h0M167.0 541.0h0M367.3 835.1h0M980.5 762.5h0M357.5 805.8h0M409.6 811.8h0M345.3 845.7h0M337.0 841.8h0M341.5 855.9h0M651.9 692.2h0M462.7 858.8h0M360.2 771.3h0M631.5 410.1h0M383.0 815.0h0M618.5 678.9h0M728.1 943.1h0M730.7 949.5h0M329.7 755.0h0M394.4 808.9h0M371.5 834.2h0M725.0 941.0h0M389.0 779.8h0M679.7 696.2h0M368.5 789.5h0M492.9 860.0h0M637.7 641.9h0M455.4 837.8h0M399.2 806.1h0M374.5 842.6h0M361.2 730.3h0M399.2 792.5h0M356.2 786.8h0M452.2 844.0h0M336.6 822.2h0M323.3 853.1h0M418.7 815.4h0M436.3 844.0h0M731.0 861.7h0M630.9 693.6h0M421.6 829.9h0M391.7 799.2h0M626.5 679.5h0M347.6 783.1h0M734.2 945.3h0M394.2 753.3h0M332.7 755.6h0M452.6 836.8h0M931.6 734.0h0M612.0 694.8h0M322.5 792.6h0M321.7 803.3h0M653.8 692.4h0M316.3 810.2h0M391.6 804.3h0M306.6 837.9h0M514.1 875.1h0M349.4 756.1h0M545.7 1004.6h0M779.5 224.7h0M340.1 769.9h0M384.0 830.7h0M383.3 798.2h0M320.4 818.5h0M336.4 830.2h0M365.6 779.7h0M722.0 844.0h0M340.8 807.7h0M725.3 951.5h0M297.0 855.6h0M508.3 880.1h0M406.4 833.3h0M942.6 779.9h0M733.4 842.8h0M339.4 741.6h0M991.5 669.0h0M473.3 851.7h0M405.5 805.2h0M373.4 800.0h0M375.6 782.9h0M620.9 650.0h0M372.8 851.9h0M307.6 810.0h0M664.9 684.7h0M584.6 225.6h0M530.0 992.3h0M383.4 844.7h0M624.2 861.5h0M777.6 229.4h0M325.1 827.0h0M740.5 844.4h0M359.6 818.0h0M513.5 571.8h0M630.2 871.8h0M360.8 790.1h0M335.6 855.4h0M638.1 892.8h0M329.1 792.5h0M326.9 813.7h0M631.2 446.5h0M641.4 925.3h0M499.1 557.8h0M696.3 119.4h0M344.3 840.3h0M436.9 831.0h0M532.4 997.1h0M821.2 796.2h0M384.7 827.9h0M302.0 855.5h0M381.1 808.1h0M984.4 639.8h0M336.9 853.7h0M969.0 693.6h0M402.5 811.2h0M368.3 803.8h0M396.6 836.5h0M689.4 126.5h0M321.6 844.8h0M324.9 806.6h0M585.1 534.6h0M363.7 823.5h0M508.0 517.5h0M738.2 942.8h0M450.0 1040.7h0M191.9 534.0h0M395.2 807.1h0M352.4 837.2h0M1027.0 642.8h0M1050.3 703.9h0M326.7 755.4h0M327.9 750.8h0M640.6 919.6h0M954.9 789.6h0M679.5 717.2h0M465.2 862.4h0M330.5 735.2h0M357.3 733.6h0M317.0 853.8h0M387.8 783.4h0M935.0 716.9h0M370.3 822.3h0M399.3 815.5h0M532.0 996.1h0M393.8 819.4h0M919.8 715.7h0M576.7 502.7h0M378.2 827.5h0M477.8 849.8h0M354.2 748.2h0M198.6 503.5h0M227.1 533.0h0M360.4 858.5h0M594.5 471.3h0M478.5 862.5h0M354.3 824.3h0M1057.5 713.6h0M394.0 787.6h0M325.1 824.3h0M299.5 851.7h0M730.1 852.0h0M601.5 675.9h0M560.7 215.9h0M355.3 812.2h0M332.5 836.8h0M714.7 845.3h0M380.0 725.8h0M417.4 820.7h0M1075.3 651.4h0M319.0 849.0h0M314.5 800.6h0M352.6 844.4h0M402.9 814.2h0M631.5 672.4h0M491.6 878.5h0M364.2 816.2h0M782.6 228.0h0M376.7 850.5h0M389.8 782.4h0M347.7 860.0h0M733.0 860.8h0M669.2 688.4h0M171.6 544.9h0M329.7 820.7h0M343.6 770.8h0M494.0 856.7h0M1036.4 632.6h0M392.0 785.2h0M375.7 821.7h0M620.0 846.7h0M1009.9 630.0h0M409.0 818.9h0M390.8 833.8h0M315.2 858.2h0M722.7 861.6h0M478.0 864.9h0M379.9 820.9h0M399.8 811.8h0M535.0 1012.3h0M389.2 807.1h0M390.3 819.4h0M530.0 1006.9h0M727.6 850.5h0M752.6 848.6h0M527.0 1017.3h0M333.0 857.1h0M543.7 992.4h0M598.0 443.8h0M306.5 820.7h0M549.1 216.0h0M703.6 162.7h0M630.3 877.2h0M305.9 827.5h0M324.7 804.4h0M515.4 871.0h0M440.2 546.0h0M340.2 823.8h0M392.1 846.9h0M1016.7 622.7h0M336.0 734.6h0M367.4 774.4h0M335.2 834.1h0M359.6 854.5h0M347.9 742.0h0M357.1 763.8h0M370.9 748.1h0M612.4 692.1h0M349.3 772.9h0M543.3 507.7h0M296.3 835.4h0M745.0 846.3h0M373.5 770.8h0M354.5 855.5h0M310.8 795.8h0M370.4 824.3h0M216.0 556.2h0M623.0 659.8h0M445.2 826.2h0M790.0 570.8h0M330.0 841.1h0M354.5 836.5h0M339.5 794.7h0M704.0 423.4h0M1054.7 647.4h0M1002.9 637.3h0M392.5 760.0h0M354.2 845.6h0M354.1 746.5h0M406.5 805.3h0M463.6 849.8h0M515.0 536.9h0M533.9 1010.4h0M402.5 771.7h0M726.2 853.0h0M532.7 1002.6h0M235.8 577.5h0M397.2 813.4h0M718.0 852.9h0M732.6 151.8h0M726.6 945.8h0M784.4 264.0h0M392.0 789.1h0M656.7 706.7h0M711.3 932.0h0M380.0 802.2h0M732.4 951.3h0M1034.1 639.2h0M609.7 646.7h0M298.9 810.0h0M347.1 747.5h0M472.1 866.0h0M368.8 809.4h0M984.9 768.9h0M485.4 857.9h0M406.4 821.3h0M392.5 855.0h0M506.1 885.4h0M674.2 447.3h0M194.6 544.7h0M339.7 744.8h0M624.9 867.5h0M386.1 801.1h0M342.6 797.0h0M533.5 1016.1h0M528.7 1008.7h0M1022.9 633.3h0M295.2 818.8h0M347.0 832.8h0M311.1 853.4h0M402.1 826.8h0M331.7 859.1h0M327.5 793.8h0M614.4 668.5h0M1044.4 634.9h0M359.7 833.9h0M754.4 226.2h0M340.3 837.5h0M506.1 867.4h0M350.9 806.5h0M349.9 841.9h0M489.0 854.0h0M640.6 656.2h0M741.2 861.3h0M943.0 763.9h0M368.6 799.6h0M331.2 816.9h0M433.3 545.8h0M634.9 685.8h0M305.4 835.9h0M744.1 859.5h0M301.9 852.1h0M469.2 863.9h0M615.1 673.4h0M348.1 732.2h0M643.1 928.0h0M322.5 832.3h0M1000.0 678.6h0M319.9 837.1h0M716.4 843.8h0M721.6 853.3h0M956.2 754.1h0M657.1 680.9h0M375.8 794.4h0M338.6 765.6h0M298.3 836.0h0M371.6 816.2h0M315.3 823.6h0M930.4 724.1h0M722.5 856.4h0M525.0 546.1h0M638.1 706.4h0M360.1 838.4h0M310.8 785.0h0M336.1 784.8h0M294.2 830.7h0M471.1 568.2h0M351.6 751.2h0M442.7 398.0h0M737.3 936.5h0M992.9 685.9h0M453.8 848.0h0M732.8 936.8h0M352.5 868.3h0M501.7 877.5h0M368.4 755.1h0M445.2 843.0h0M1077.0 660.4h0M633.3 680.3h0M327.4 774.1h0M328.1 806.9h0M641.7 681.4h0M596.5 468.4h0M1013.3 690.2h0M350.8 766.7h0M447.1 841.2h0M801.0 270.0h0M385.0 858.3h0M385.5 786.7h0M1029.2 629.5h0M447.0 836.8h0M687.3 735.1h0M399.9 802.2h0M361.5 829.1h0M405.0 801.4h0M331.8 756.7h0M320.8 862.8h0M685.2 705.6h0M642.3 673.6h0M325.9 829.7h0M368.7 763.1h0M999.3 742.6h0M517.3 918.3h0M343.8 770.1h0M328.0 860.6h0M1055.4 642.9h0M318.6 783.2h0M336.4 770.9h0M1025.0 639.6h0M364.1 783.6h0M319.5 808.6h0M391.9 824.7h0M361.6 853.1h0M722.5 834.2h0M338.8 809.4h0M418.7 839.2h0M433.2 820.0h0M649.5 705.4h0M614.6 424.3h0M980.7 691.1h0M410.7 810.2h0M335.8 826.6h0M332.7 766.7h0M597.2 244.1h0M336.5 836.1h0M967.9 774.6h0M1005.4 754.2h0M475.4 853.4h0M353.8 802.1h0M1061.0 663.0h0M459.6 839.9h0M345.8 735.5h0M710.6 472.2h0M416.3 827.1h0M989.6 680.3h0M480.9 853.0h0M464.5 852.1h0M333.5 746.1h0M379.8 793.2h0M636.7 882.1h0M449.9 584.0h0M393.0 806.0h0M717.9 935.7h0M383.2 786.2h0M408.7 800.2h0M788.0 305.7h0M629.8 655.7h0M370.2 772.3h0M726.4 128.3h0M536.9 1016.1h0M718.5 845.1h0M484.6 859.8h0M333.8 844.6h0M400.2 820.9h0M351.7 731.7h0M1023.6 753.6h0M423.6 832.4h0M530.8 1005.0h0M639.8 648.5h0M644.8 673.0h0M923.3 548.3h0M445.1 847.1h0M643.6 706.6h0M408.1 807.8h0M374.7 805.3h0M430.5 824.9h0M602.7 549.6h0M1055.6 740.6h0M316.5 835.1h0M646.1 899.7h0M417.1 842.4h0M644.3 902.5h0M324.2 799.9h0M398.3 826.3h0M439.8 836.9h0M360.2 770.5h0M321.1 857.9h0M637.6 669.0h0M341.6 790.0h0M979.2 667.2h0M586.8 464.3h0M646.2 707.1h0M456.5 845.0h0M392.3 794.6h0M616.4 677.3h0M234.0 549.4h0M544.2 1003.6h0M328.7 777.9h0M401.0 798.3h0M369.3 775.1h0M449.6 837.7h0M385.0 833.0h0M950.0 769.3h0M393.9 831.1h0M1004.3 691.1h0M343.6 782.8h0M319.0 830.2h0M345.0 852.0h0M496.0 568.3h0M390.8 425.2h0M571.7 488.3h0M373.4 784.5h0M370.4 773.4h0M298.1 840.6h0M749.0 849.9h0M448.0 847.2h0M329.4 759.0h0M395.4 834.7h0M1006.1 699.3h0M364.2 794.2h0M353.9 753.7h0M183.2 548.5h0M377.2 815.6h0M823.8 793.8h0M308.6 803.5h0M730.5 934.9h0M853.0 278.9h0M298.1 834.0h0M517.7 922.7h0M367.5 828.6h0M736.2 845.9h0M721.7 942.7h0M336.2 791.4h0M393.6 823.6h0M417.6 823.8h0M825.8 796.2h0M312.0 848.9h0M631.4 873.6h0M838.1 273.6h0M354.5 766.5h0M645.0 443.0h0M355.6 773.1h0M632.0 700.0h0M372.4 780.0h0M343.6 773.5h0M999.4 637.9h0M361.8 769.9h0M396.9 823.3h0M618.1 662.0h0M749.0 222.0h0M465.8 857.2h0M341.9 773.3h0M459.3 846.4h0M726.8 152.5h0M745.4 840.5h0M512.6 880.4h0M816.7 780.0h0M430.0 817.0h0M353.7 807.0h0M436.1 834.9h0M337.6 864.5h0M353.0 826.7h0M611.3 467.5h0M187.6 568.3h0M500.5 489.5h0M482.0 849.6h0M723.2 944.4h0M371.4 792.4h0M339.8 856.8h0M750.6 843.6h0M764.4 230.0h0M387.1 788.3h0M986.5 681.2h0M332.4 748.1h0M379.6 782.3h0M473.6 861.7h0M573.1 244.6h0M325.7 854.8h0M338.6 724.3h0M638.3 656.4h0M337.5 867.5h0M824.8 280.6h0M354.5 851.9h0M740.0 841.2h0M783.5 213.3h0M623.5 675.3h0M994.1 774.2h0M555.6 251.1h0M388.8 803.3h0M535.4 1005.9h0M1072.9 729.8h0M996.3 659.8h0M374.0 840.1h0M411.6 810.9h0M610.5 673.9h0M724.0 270.6h0M343.8 733.6h0M328.7 802.0h0M379.6 779.2h0M372.9 766.2h0M960.4 672.5h0M325.1 848.2h0M538.9 986.5h0M1030.9 651.5h0M728.3 844.3h0M743.0 860.3h0M352.9 784.2h0M508.0 510.5h0M1051.2 668.3h0M656.1 678.4h0M668.3 705.8h0M423.7 819.7h0M370.9 831.4h0M385.9 803.3h0M318.3 771.7h0M341.0 831.4h0M620.0 243.3h0M307.8 857.5h0M1051.6 661.3h0M682.5 702.1h0M327.5 798.9h0M322.2 868.7h0M657.3 916.7h0M356.7 840.1h0M1010.2 654.2h0M300.3 827.0h0M338.1 760.5h0M912.3 573.3h0M420.0 406.0h0M517.5 918.0h0M642.3 900.9h0M351.1 734.7h0M695.2 124.8h0M976.7 746.3h0M359.6 773.7h0M372.6 855.6h0M663.1 709.4h0M388.9 421.0h0M609.4 662.2h0M341.0 731.6h0M1038.2 739.8h0M413.1 442.1h0M316.3 827.7h0M945.4 752.0h0M353.0 770.7h0M1015.0 755.4h0M364.3 734.7h0M1032.6 655.0h0M710.7 856.0h0M226.1 545.3h0M815.8 793.3h0M840.6 225.8h0M731.6 943.0h0M707.0 146.9h0M333.8 772.2h0M438.1 825.3h0M915.0 711.8h0M349.4 822.7h0M331.6 849.8h0M751.1 846.6h0M413.5 816.0h0M350.5 748.7h0M331.6 750.0h0M1029.2 635.7h0M646.5 686.8h0M594.8 541.4h0M482.9 853.3h0M469.9 850.8h0M300.9 814.7h0M319.8 798.9h0M345.8 858.2h0M1010.5 758.8h0M412.6 819.1h0M332.4 798.1h0M421.7 825.3h0M327.5 842.0h0M323.7 828.9h0M1034.9 673.8h0M395.8 844.6h0M328.6 827.5h0M663.8 425.9h0M990.1 651.1h0M620.4 667.0h0M407.9 809.1h0M548.3 255.8h0M1047.9 707.0h0M370.8 722.5h0M391.2 788.9h0M352.6 798.8h0M162.9 565.1h0M700.5 444.6h0M331.5 866.6h0M912.9 702.3h0M706.6 848.6h0M633.2 645.4h0M385.1 771.6h0M712.8 853.4h0M798.3 224.3h0M961.5 737.2h0M571.7 526.7h0M988.0 638.0h0M359.6 861.1h0M381.5 836.5h0M971.7 686.4h0M380.8 755.0h0M717.3 938.0h0M354.8 818.6h0M674.9 157.9h0M339.2 721.1h0M509.8 574.7h0M400.8 766.7h0M743.1 861.1h0M391.0 831.3h0M522.4 877.2h0M639.0 926.5h0M296.9 823.7h0M934.4 751.1h0M477.8 867.1h0M393.9 827.4h0M348.8 831.6h0M508.1 886.1h0M368.7 795.4h0M497.5 869.5h0M639.1 674.0h0M663.3 711.7h0M375.8 803.3h0M807.8 305.5h0M626.7 423.7h0M345.8 864.0h0M416.5 817.2h0M692.4 427.3h0M327.7 824.3h0M613.1 690.1h0M311.4 824.5h0M365.6 776.2h0M489.5 872.0h0M677.6 141.9h0"/>
<path class="c4" d="M166.6 554.0h0M405.2 395.7h0M199.5 526.0h0M164.9 541.8h0M177.1 515.2h0M1013.2 708.8h0M241.4 573.1h0M407.1 424.5h0M168.7 546.1h0M239.1 547.4h0M619.9 702.1h0M217.2 504.7h0M231.0 509.0h0M726.2 149.0h0M1077.5 715.5h0M172.8 542.4h0M953.9 729.1h0M639.1 681.1h0M743.3 134.3h0M635.3 657.7h0M749.9 153.5h0M208.2 516.8h0M734.4 141.8h0M962.9 763.5h0"/>
<path class="c5" d="M606.4 688.7h0M233.9 554.2h0M730.7 120.8h0M406.0 405.0h0M217.6 512.4h0M221.1 514.6h0M217.9 554.3h0M197.4 528.4h0M503.7 562.8h0M186.7 538.3h0M605.6 677.4h0M619.3 685.0h0M615.6 378.7h0M211.1 552.1h0M186.5 510.8h0M234.0 517.7h0M494.3 589.6h0"/>
<path class="c6" d="M581.4 229.5h0M721.5 447.5h0M695.1 162.6h0M196.6 512.5h0M623.8 461.6h0M514.3 552.6h0M1000.2 692.2h0M920.3 731.0h0M200.6 551.9h0M164.1 558.2h0M702.9 454.3h0M158.9 546.3h0M1043.9 683.1h0M665.6 429.3h0M431.5 562.4h0M188.5 521.7h0M1072.7 683.7h0M1079.6 671.2h0M729.8 454.2h0M563.0 251.2h0M203.6 531.3h0M1030.5 689.5h0M189.5 531.9h0M496.7 367.3h0M658.3 685.6h0M807.3 315.2h0M503.8 575.2h0M184.2 525.0h0M157.1 535.6h0M980.3 736.9h0M1035.0 723.5h0M460.8 585.8h0M464.8 574.6h0M719.5 155.2h0M685.2 166.0h0M226.7 520.6h0M156.6 552.7h0M556.4 762.6h0M938.2 767.4h0"/>
<path class="c7" d="M718.7 847.5h0M503.8 882.8h0M813.0 783.7h0M515.9 540.8h0M394.0 403.8h0M964.2 726.6h0M206.8 496.1h0M431.3 559.1h0M196.5 522.4h0M395.8 421.9h0M928.4 776.8h0M752.2 205.7h0M703.7 460.0h0M169.3 520.5h0M569.2 216.2h0M625.2 658.1h0M241.7 547.2h0M214.5 538.1h0M410.3 432.9h0M730.0 269.4h0M953.1 751.8h0M176.6 517.8h0M223.0 538.3h0M394.2 732.5h0M186.3 517.2h0M730.8 859.7h0M424.0 440.9h0M1033.7 743.1h0M612.6 432.4h0M949.1 764.2h0M199.1 545.6h0M830.2 287.8h0M762.8 793.0h0M398.8 390.2h0M412.4 432.8h0M432.9 576.5h0M740.2 181.8h0M699.4 166.5h0M729.9 170.0h0M580.0 222.1h0M737.0 856.2h0M480.6 464.5h0M606.9 392.4h0M1020.0 738.1h0M241.0 570.4h0M1033.6 770.6h0M227.4 513.8h0M678.0 121.3h0M748.6 180.6h0M501.4 556.6h0M202.7 568.0h0M927.7 758.5h0M709.2 149.3h0M1035.1 731.5h0M969.0 736.7h0M473.2 580.4h0M737.4 143.6h0M1001.8 753.4h0M180.8 532.9h0M640.4 709.6h0M936.9 768.9h0M992.5 768.7h0M475.6 588.9h0M818.0 789.5h0M562.2 228.7h0M433.2 574.0h0M184.5 522.7h0M942.4 784.8h0M404.2 389.3h0M810.0 784.7h0M689.5 173.6h0M964.6 744.4h0M557.5 230.3h0M223.3 516.7h0M185.7 564.4h0M180.9 519.7h0M811.5 324.4h0M731.7 855.0h0M716.6 154.9h0M242.0 541.5h0M458.4 589.2h0M1038.2 733.3h0M1045.8 653.2h0M188.9 540.2h0M806.7 785.0h0M230.3 521.4h0M205.5 503.8h0M223.5 577.5h0M946.7 717.6h0M1027.1 639.6h0M955.0 693.9h0M218.6 570.3h0M1065.4 729.9h0M607.2 459.0h0"/>
<path class="c8" d="M711.7 850.3h0M559.3 782.4h0M199.2 519.5h0M958.8 783.9h0M406.5 766.8h0M1051.3 713.3h0M621.0 675.2h0M1003.5 697.7h0M736.3 122.0h0M175.6 551.1h0M642.5 663.5h0M696.5 137.3h0M175.8 547.6h0M202.3 524.5h0M924.2 743.8h0M434.6 544.6h0M1073.2 721.5h0M399.7 410.3h0M685.3 147.4h0M960.9 749.5h0M682.1 705.3h0M708.3 438.7h0M646.7 905.0h0M393.8 863.0h0M411.7 421.0h0M181.4 531.2h0M213.2 514.8h0M394.8 743.2h0M478.3 441.6h0M400.0 828.2h0M739.6 184.6h0M303.8 856.2h0M207.9 530.7h0M688.3 447.0h0M723.2 459.8h0M396.5 406.6h0M740.6 168.4h0M476.1 470.5h0M1053.3 686.8h0M208.5 523.3h0M499.3 365.0h0M922.4 716.9h0M655.3 698.5h0M352.5 731.2h0M704.4 124.1h0M951.3 752.2h0M987.2 660.1h0M660.8 446.7h0M415.0 795.0h0M709.9 125.9h0M235.9 541.8h0M720.4 168.8h0M987.3 747.3h0M717.6 161.1h0M727.4 458.7h0M412.7 438.7h0M992.4 779.8h0M165.1 553.0h0M741.2 845.3h0M1043.4 727.6h0M334.2 857.5h0M356.2 720.5h0M697.8 422.4h0M1009.9 774.5h0M1036.7 758.6h0M409.8 438.3h0M699.7 433.3h0M711.3 160.5h0M174.1 516.4h0M479.6 430.0h0M356.8 792.0h0M467.1 586.8h0M168.3 522.2h0M1010.9 763.0h0M962.7 780.9h0M583.8 232.1h0M638.3 924.0h0M508.0 576.6h0M1031.5 773.3h0M666.8 460.5h0M231.6 514.7h0M1036.5 629.5h0M152.4 536.0h0M1036.2 645.4h0M665.6 689.8h0M163.9 566.5h0M593.9 466.5h0M372.5 803.2h0M208.8 502.4h0M798.7 297.4h0M972.6 712.5h0M1020.6 766.7h0M732.9 136.9h0M674.1 132.4h0M481.3 432.7h0M536.0 1006.7h0M722.5 846.7h0M992.8 747.8h0M187.1 512.6h0M794.1 300.7h0M446.0 1043.7h0M737.2 164.3h0M180.5 522.9h0M801.3 302.8h0M408.9 401.4h0M398.2 803.2h0M234.6 570.0h0M683.3 153.7h0M398.5 386.4h0M711.7 165.3h0M1041.4 690.3h0M165.3 567.5h0M626.6 666.7h0M445.7 583.5h0M451.4 571.0h0M694.3 419.8h0M391.2 791.5h0M537.3 1015.0h0M486.9 566.0h0M744.2 189.2h0M313.8 826.2h0M1084.8 679.8h0M224.9 554.7h0M498.8 869.0h0M222.0 502.7h0M170.4 536.2h0M155.0 545.1h0M155.7 554.9h0M180.0 550.6h0M619.0 843.3h0M230.8 575.2h0M638.3 672.0h0M1007.5 641.7h0M676.8 691.3h0M549.6 769.5h0M236.4 567.3h0M473.6 595.5h0M729.0 271.0h0M723.7 857.5h0M221.5 509.7h0M201.9 522.1h0M1010.2 738.3h0M763.3 793.3h0M168.7 550.7h0M624.2 667.2h0M966.6 727.0h0M1075.1 664.2h0M726.5 474.3h0M608.6 403.7h0M595.0 232.8h0M704.8 458.4h0M1007.8 659.5h0M197.8 500.3h0M493.4 455.0h0M399.2 383.6h0M331.2 790.5h0M349.2 815.0h0"/>
<path class="c9" d="M823.2 292.2h0M932.5 778.7h0M1053.0 713.0h0M987.7 764.6h0M489.2 512.5h0M702.9 174.3h0M1062.5 688.9h0M809.5 309.9h0M413.6 436.4h0M976.2 673.8h0M1025.1 717.8h0M419.3 435.0h0M459.6 394.0h0M188.6 545.3h0M1058.1 694.8h0M1070.5 691.5h0M758.9 192.0h0M725.2 115.9h0M680.7 156.7h0M699.9 175.4h0M1053.3 694.9h0M203.6 521.4h0M606.8 432.1h0M644.3 675.0h0M466.7 565.2h0M715.5 132.5h0M710.3 467.5h0M522.2 550.0h0M192.8 510.2h0M1027.0 661.1h0M1052.4 729.8h0M247.4 576.3h0M175.4 564.3h0M707.6 444.5h0M742.1 173.3h0M938.0 712.3h0M187.3 551.5h0M1028.9 739.6h0M406.6 441.4h0M646.9 691.1h0M1009.8 728.0h0M714.4 183.9h0M185.8 555.9h0M491.1 571.5h0M183.7 534.7h0M430.0 557.7h0M969.3 759.5h0M222.1 541.1h0M699.7 132.4h0M560.4 218.5h0M746.4 166.9h0M1038.6 762.4h0M495.9 580.3h0M568.8 229.2h0M973.9 704.6h0M1040.2 667.8h0M983.0 638.0h0M1013.6 657.2h0M728.7 444.3h0M466.9 386.4h0M989.9 752.9h0M676.8 437.8h0M172.0 560.9h0M167.0 516.6h0M613.4 236.8h0M1054.3 653.1h0M686.0 715.5h0M729.2 139.2h0M715.0 462.9h0M823.5 218.7h0M1072.4 675.6h0M1018.1 717.0h0M965.7 735.1h0M512.9 586.4h0M218.5 536.7h0M217.3 526.3h0M502.3 570.5h0M169.4 558.9h0M519.2 565.3h0M642.1 695.1h0M613.9 438.9h0M934.0 739.4h0M546.8 240.3h0M599.2 393.4h0M1034.1 716.9h0M214.8 512.7h0M945.6 770.4h0M827.3 291.5h0M740.6 464.8h0M177.0 529.0h0M827.5 280.9h0M165.4 530.8h0M664.3 435.7h0M151.2 554.2h0M639.7 688.8h0M196.3 505.3h0M211.2 508.4h0M505.3 460.0h0M681.1 132.9h0M970.2 703.6h0M979.1 716.5h0M445.3 450.7h0M719.0 187.2h0M184.1 513.0h0M434.9 530.2h0M733.6 126.8h0M653.7 679.3h0M622.3 841.0h0M976.3 775.8h0M1032.1 721.4h0M711.2 169.1h0M487.1 439.1h0M1000.3 628.5h0M396.7 402.5h0M689.1 727.5h0M965.8 678.4h0M596.7 739.0h0M517.2 543.4h0M427.8 555.5h0M201.1 502.9h0M149.8 555.3h0M605.1 682.3h0M174.6 541.1h0M695.6 113.9h0M229.8 525.8h0M686.1 151.3h0M705.8 425.8h0M394.1 396.5h0M512.0 452.0h0M733.5 171.8h0M163.2 531.4h0M1013.1 701.8h0M805.5 226.5h0M931.6 781.1h0M160.1 563.0h0M163.1 524.2h0M218.4 515.7h0M211.9 520.7h0M672.7 157.5h0M678.5 160.2h0M628.4 672.6h0M161.9 543.1h0M468.7 451.3h0M707.4 452.5h0M669.1 448.2h0M1075.5 658.9h0M1023.9 707.5h0M995.3 675.5h0M717.5 855.0h0M175.1 545.6h0M756.6 191.1h0M646.4 419.0h0M814.2 224.5h0M452.1 591.0h0M1049.3 641.7h0M224.9 521.9h0M996.5 711.2h0M453.3 413.3h0M606.8 400.5h0M1007.9 655.7h0M640.3 698.2h0M834.0 287.5h0M568.5 250.8h0M478.2 567.8h0M1029.0 684.1h0M224.5 530.6h0M214.8 503.2h0M1004.1 717.5h0M456.3 575.1h0M210.1 536.2h0M705.8 162.5h0M724.1 155.2h0M643.3 924.0h0M480.7 456.9h0M234.3 512.1h0M158.5 551.4h0M1005.6 663.7h0M644.3 670.9h0M432.0 398.0h0M966.6 699.4h0M235.6 536.7h0"/>
<path class="c10" d="M190.4 521.7h0M597.2 544.9h0M550.5 214.2h0M974.7 692.4h0M192.3 540.1h0M1035.3 691.2h0M1067.0 720.6h0M1024.4 644.3h0M430.0 545.1h0M189.8 512.3h0M982.7 697.9h0M398.9 402.9h0M986.6 663.8h0M621.0 785.7h0M731.6 146.1h0M678.2 450.4h0M723.6 186.8h0M219.6 509.0h0M916.9 718.6h0M1030.6 722.8h0M1018.6 712.1h0M556.0 781.7h0M164.7 533.3h0M210.7 538.6h0M710.8 184.3h0M689.8 146.7h0M980.0 759.0h0M953.8 706.3h0M1047.5 745.5h0M1002.3 706.1h0M632.7 702.0h0M958.8 781.7h0M201.4 540.6h0M989.5 760.1h0M445.0 530.0h0M845.0 275.1h0M735.2 456.7h0M463.7 576.3h0M822.8 277.3h0M831.8 235.5h0M595.9 543.6h0M809.0 320.5h0M797.6 230.2h0M773.2 204.7h0M580.2 228.3h0M1037.4 744.7h0M597.0 411.6h0M170.6 526.0h0M209.5 531.5h0M576.8 225.0h0M990.7 776.3h0M1037.6 697.1h0M184.2 539.9h0M1018.5 664.1h0M222.5 530.6h0M1072.6 667.2h0M769.3 222.8h0M776.1 198.0h0M502.5 516.2h0M197.0 517.0h0M933.4 731.8h0M436.7 440.7h0M945.2 740.3h0M185.3 518.8h0M848.4 286.9h0M956.6 764.2h0M1070.5 668.5h0M677.4 694.3h0M512.8 391.8h0M979.7 751.7h0M562.6 216.5h0M1077.1 662.5h0M494.4 581.3h0M292.0 394.2h0M207.9 512.0h0M953.9 684.3h0M216.0 514.3h0M1013.4 698.5h0M722.8 185.2h0M192.8 515.7h0M158.0 548.0h0M1023.3 758.3h0M614.6 644.9h0M1054.0 744.9h0M181.6 550.0h0M189.7 549.2h0M189.9 567.0h0M228.3 518.8h0M484.9 569.1h0M1015.4 714.3h0M580.4 778.7h0M196.3 519.5h0M699.1 153.7h0M1046.1 743.4h0M971.5 708.4h0M1002.8 674.5h0M1047.6 747.4h0M434.0 552.5h0M172.8 525.3h0M640.2 650.9h0M170.2 543.2h0M397.0 426.0h0M700.4 442.4h0M697.5 454.4h0M225.1 524.9h0M213.5 507.8h0M185.6 543.3h0M394.2 393.5h0M243.4 545.0h0M464.1 591.9h0M644.1 426.7h0M230.9 538.5h0M709.1 181.7h0M434.5 582.1h0M204.0 524.2h0M1059.2 643.8h0M1024.9 647.5h0M1031.9 761.8h0M958.9 747.3h0M178.1 524.3h0M680.2 702.4h0M516.0 569.8h0M616.7 446.1h0M485.8 578.5h0M489.0 523.0h0M1025.5 637.1h0M804.0 300.6h0M1044.8 710.1h0M483.8 531.2h0M483.3 453.1h0M626.4 697.9h0M961.9 705.0h0M971.5 765.8h0M1000.9 668.1h0M720.1 461.6h0M570.8 231.2h0M706.4 456.9h0M639.2 438.3h0M166.9 565.5h0M651.7 706.7h0M643.7 417.0h0M495.5 460.1h0M703.0 127.3h0M715.6 135.9h0M1040.8 647.1h0M727.4 456.7h0M976.3 709.7h0M496.7 356.0h0M696.5 452.2h0M398.5 405.0h0M642.6 688.8h0M512.5 545.5h0M938.5 751.4h0M731.2 123.2h0M443.2 554.8h0M818.5 283.8h0M168.2 563.0h0M488.3 589.9h0M981.6 694.6h0M997.4 780.8h0M223.4 512.4h0M1003.4 729.5h0M507.5 571.2h0M630.4 703.1h0M392.5 405.7h0M848.7 283.9h0M641.6 425.0h0M729.2 166.2h0M739.8 150.3h0M506.0 576.5h0M710.2 122.1h0M742.6 158.0h0M491.6 455.5h0M1032.0 644.0h0M990.1 674.2h0M849.1 278.7h0M1018.3 770.4h0M596.1 228.3h0M693.1 162.5h0M490.1 578.1h0M469.6 585.4h0M707.6 433.1h0M194.0 549.6h0M402.6 383.5h0M986.0 767.0h0M726.2 175.0h0M211.8 531.9h0M934.2 720.8h0M713.4 170.8h0M936.7 785.3h0M666.5 979.5h0M705.7 177.8h0M229.1 549.2h0M1027.0 703.3h0M494.0 357.3h0M988.1 691.4h0M405.3 398.0h0M155.6 531.3h0M704.4 158.4h0M480.0 584.8h0M705.9 439.0h0M812.9 316.2h0M1055.4 677.9h0M958.1 687.2h0M1014.8 758.1h0M695.9 444.8h0M216.7 533.4h0M1051.6 683.6h0M725.9 463.9h0M565.0 521.7h0M416.1 439.3h0M1014.7 763.6h0M955.9 692.0h0M224.7 504.0h0M393.8 401.1h0M601.2 460.1h0M702.2 131.4h0M1055.9 700.4h0M734.4 160.5h0M549.5 767.4h0M547.7 221.1h0M539.3 1005.0h0M176.3 533.7h0M156.8 528.4h0M643.3 707.5h0M457.3 414.7h0M692.7 149.9h0M711.4 186.5h0M695.2 169.5h0M429.0 565.4h0M625.4 458.4h0M734.9 167.8h0M823.6 238.2h0M442.3 555.2h0M176.3 524.1h0M453.8 576.4h0M826.5 217.4h0M633.0 416.8h0M179.5 548.3h0M723.4 157.0h0M971.3 760.2h0M1005.0 708.5h0M164.1 520.5h0M233.3 524.4h0M520.0 461.2h0M721.3 129.6h0M212.8 566.7h0M392.1 412.9h0M630.7 439.6h0M526.8 546.4h0M611.3 452.9h0M952.7 692.4h0M844.9 281.0h0M1030.8 673.7h0M684.6 717.9h0M399.5 430.7h0M212.5 523.7h0M608.4 692.6h0M517.4 400.0h0M933.3 722.8h0M1067.8 643.0h0M669.2 685.2h0M684.0 446.2h0M186.9 549.2h0M744.1 153.7h0M737.6 456.2h0M830.9 217.6h0"/>
<path class="c11" d="M1022.6 669.7h0M706.6 181.8h0M723.0 120.6h0M764.0 544.0h0M1048.3 753.3h0M646.7 707.0h0M448.4 573.9h0M1011.3 708.9h0M708.4 153.4h0M745.1 186.7h0M159.5 536.3h0M682.2 716.8h0M659.4 696.1h0M712.2 121.8h0M465.1 583.5h0M677.0 138.3h0M738.5 180.0h0M415.9 431.0h0M715.3 146.8h0M247.5 525.0h0M689.0 208.0h0M608.1 232.1h0M807.4 301.6h0M233.9 566.8h0M735.0 173.4h0M205.0 510.5h0M742.6 139.1h0M701.6 120.8h0M634.7 655.4h0M239.0 564.7h0M488.6 573.4h0M398.2 409.4h0M1006.7 749.1h0M455.2 578.1h0M734.1 470.6h0M744.5 138.7h0M160.4 559.0h0M822.3 336.7h0M725.4 453.6h0M683.0 241.0h0M160.8 539.3h0M725.8 176.8h0M415.0 432.4h0M665.0 241.0h0M487.7 580.7h0M710.6 448.7h0M620.5 385.3h0M716.5 164.5h0M993.0 650.3h0M739.3 152.5h0M650.7 654.5h0M730.6 149.9h0M948.9 771.3h0M694.4 160.4h0M794.4 215.8h0M602.2 228.1h0M1047.6 634.7h0M721.4 147.9h0M650.3 665.8h0M1061.2 659.0h0M694.9 460.0h0M730.5 468.1h0M198.2 513.7h0M425.3 420.7h0M574.3 782.0h0M448.5 567.6h0M200.0 539.2h0M615.4 436.8h0M411.2 439.9h0M1004.7 661.0h0M388.7 412.6h0M716.6 437.2h0M655.1 690.5h0M1015.6 701.2h0M1051.4 751.9h0M1016.1 766.8h0M434.1 587.8h0M403.8 394.3h0M963.9 783.9h0M197.2 567.2h0M729.5 143.9h0M989.2 754.6h0M559.5 231.2h0M384.6 415.0h0M988.7 733.0h0M620.9 462.7h0M616.7 411.4h0M707.2 173.5h0M816.9 276.7h0M709.8 119.2h0M174.1 513.0h0M809.7 314.9h0M737.3 467.2h0M690.8 179.1h0M185.2 545.0h0M186.3 535.1h0M666.5 435.5h0M719.9 459.1h0M679.9 170.7h0M558.6 224.0h0M621.0 404.9h0M963.3 771.3h0M226.4 506.6h0M684.6 438.0h0M994.1 636.7h0M692.1 152.0h0M696.0 143.2h0M922.3 723.1h0M929.0 759.5h0M687.0 205.0h0M647.0 660.3h0M718.9 475.7h0M491.3 462.0h0M513.2 533.5h0M995.2 651.8h0M1035.1 689.1h0M845.9 298.8h0M646.9 422.1h0M398.0 388.4h0M676.5 151.6h0M224.2 509.4h0M611.0 778.3h0M560.8 236.6h0M456.0 581.4h0M835.3 290.2h0M183.7 506.1h0M699.8 118.4h0M520.5 532.0h0M459.6 572.9h0M429.2 569.7h0M634.0 461.5h0M952.3 688.9h0M712.3 117.3h0M489.2 503.0h0M213.5 545.1h0M717.2 118.5h0M389.1 403.9h0M387.7 409.9h0M1071.3 658.0h0M616.1 702.9h0M699.7 139.7h0M791.7 300.0h0M1029.6 745.6h0M721.4 437.1h0M483.1 463.3h0M391.3 410.2h0M575.1 778.1h0M197.9 550.3h0M737.9 149.6h0M192.1 550.3h0M706.9 429.3h0M964.3 774.2h0M478.0 585.7h0M579.1 772.7h0M734.9 183.3h0M421.3 420.7h0M1012.8 762.9h0M1001.9 693.8h0M492.8 574.8h0M391.6 399.7h0M180.3 556.5h0M399.4 418.2h0M940.9 781.4h0M727.6 122.0h0M511.6 568.5h0M649.9 686.5h0M1046.6 738.2h0M498.5 567.9h0M715.1 161.1h0M690.5 725.7h0M693.7 146.9h0M567.8 769.0h0M653.8 702.3h0M191.4 524.9h0M569.2 778.9h0M978.8 709.6h0M651.2 675.5h0M737.3 145.6h0M997.2 740.2h0M471.6 450.7h0M208.3 507.2h0M959.0 767.4h0M941.6 753.7h0M723.8 463.1h0M484.6 591.9h0M567.0 219.2h0M944.5 783.6h0M822.7 336.7h0M623.9 403.5h0M584.5 774.0h0M458.7 410.0h0M182.5 562.7h0M753.0 176.0h0M1017.9 688.5h0M648.6 464.0h0M612.8 419.3h0M987.5 683.6h0M706.2 454.1h0M663.3 465.8h0M199.6 511.0h0M203.6 505.9h0M708.6 469.3h0M553.5 219.9h0M776.0 594.3h0M491.1 590.9h0M1052.9 725.4h0M227.4 509.0h0M401.4 388.2h0M187.3 529.5h0M220.4 577.4h0M1002.1 688.4h0M210.7 571.9h0M1075.1 718.6h0M201.4 543.3h0M656.1 666.9h0M572.6 231.4h0M1014.9 687.7h0M525.6 559.4h0M953.0 681.0h0M1004.5 670.7h0M473.7 470.6h0M730.5 474.7h0M591.7 239.7h0M222.0 555.3h0M553.3 773.1h0M745.2 158.8h0M762.2 191.4h0M416.5 436.3h0M597.5 463.3h0M676.3 162.9h0M574.7 221.0h0M727.6 119.9h0M217.1 510.4h0M172.9 559.2h0M698.3 430.1h0M1017.8 753.7h0M610.8 684.6h0M1018.4 707.0h0M777.7 210.0h0M219.8 531.1h0M684.2 159.5h0M452.2 593.5h0M743.4 159.7h0M926.0 723.2h0M705.1 166.6h0M936.1 783.0h0M734.5 146.7h0M190.4 569.8h0M996.1 747.8h0M616.2 468.9h0M748.2 155.2h0M820.5 230.8h0M992.7 655.7h0M845.9 278.6h0M630.1 658.9h0M1039.6 723.6h0M683.8 732.4h0M684.2 125.9h0M194.9 509.8h0M982.6 750.5h0M699.1 446.9h0M701.6 169.0h0M1060.5 640.9h0M971.2 723.3h0M996.5 649.4h0M1026.2 767.2h0M491.7 355.0h0M523.7 555.3h0M436.6 576.3h0M425.7 440.6h0M179.3 536.0h0M588.2 229.1h0M391.4 396.7h0M191.2 502.6h0M726.0 186.3h0M202.3 513.3h0M674.7 152.2h0M730.3 174.3h0M1005.3 658.0h0M1031.3 735.6h0M956.4 717.1h0M408.2 407.6h0M765.0 560.0h0M183.2 570.2h0M616.6 648.9h0M590.3 464.0h0M179.8 518.3h0M520.1 547.9h0M692.8 441.0h0M707.5 427.4h0M407.9 438.0h0M221.0 523.4h0M1041.4 629.3h0M206.6 506.6h0M404.0 400.0h0M191.1 508.4h0M678.7 137.1h0M733.2 174.4h0M623.7 435.4h0M395.4 415.7h0M256.2 491.2h0M745.6 194.3h0M955.7 773.6h0M406.3 383.8h0M985.5 636.1h0M164.4 550.0h0M150.3 541.1h0M992.9 687.9h0M692.5 420.0h0M186.4 507.7h0M918.5 721.7h0M720.0 178.4h0M847.6 281.4h0M801.4 311.3h0M479.9 451.2h0M680.7 452.7h0M221.3 507.5h0M560.1 222.6h0M395.5 409.5h0M1033.4 745.0h0M177.9 508.5h0M678.2 454.0h0M160.4 526.1h0M954.8 785.5h0M555.6 778.5h0M546.9 246.2h0M167.6 536.3h0M419.7 438.4h0M727.1 440.9h0M741.6 133.6h0M692.3 455.8h0M162.9 536.0h0M1007.2 697.7h0M962.5 697.7h0M406.7 418.7h0M1015.2 734.0h0M470.3 454.0h0M199.7 517.4h0M656.0 669.5h0M631.5 415.9h0M707.2 116.0h0M620.0 233.8h0M155.4 566.5h0M1021.0 647.5h0M163.4 560.6h0M580.8 448.3h0M637.3 693.4h0"/>
<path class="c12" d="M1070.8 662.3h0M719.9 121.1h0M952.4 746.1h0M152.9 549.8h0M847.0 289.6h0M631.8 413.8h0M1028.1 699.1h0M626.7 464.6h0M464.7 448.7h0M157.3 537.6h0M676.1 155.8h0M689.2 166.2h0M728.7 470.7h0M590.9 225.0h0M1009.2 752.8h0M488.3 352.7h0M605.5 461.5h0M627.9 436.8h0M151.3 544.1h0M1001.8 699.4h0M990.8 633.8h0M711.7 474.8h0M1031.3 713.9h0M189.7 519.4h0M706.6 446.8h0M558.7 228.6h0M986.1 699.7h0M931.4 721.0h0M656.1 466.1h0M167.1 548.0h0M669.2 710.0h0M713.7 442.7h0M1044.6 754.6h0M400.0 399.7h0M1025.3 715.4h0M721.6 466.7h0M744.0 132.4h0M929.9 713.6h0M764.2 214.4h0M932.0 728.9h0M525.5 565.1h0M713.3 176.6h0M483.3 455.9h0M696.1 428.9h0M985.2 731.7h0M964.7 749.1h0M469.0 574.9h0M677.3 117.0h0M715.3 431.6h0M1077.5 651.3h0M630.8 457.9h0M206.6 520.3h0M162.9 552.9h0M987.9 729.6h0M187.4 506.2h0M193.9 532.1h0M624.9 446.8h0M422.2 437.5h0M799.7 306.2h0M749.2 717.8h0M634.9 668.1h0M630.1 683.6h0M718.2 163.1h0M149.7 549.1h0M1068.6 731.9h0M195.6 528.1h0M398.0 398.9h0M456.7 412.7h0M778.7 216.1h0M1051.2 704.8h0M758.9 232.4h0M222.3 532.5h0M926.8 739.0h0M670.8 712.5h0M1077.4 707.8h0M187.0 532.2h0M436.6 578.7h0M497.5 486.2h0M802.7 214.6h0M983.4 691.0h0M595.7 458.0h0M1012.6 713.0h0M630.9 674.5h0M573.3 501.7h0M809.6 320.1h0M628.5 458.9h0M755.2 206.0h0M190.1 529.2h0M1075.5 711.0h0M638.2 463.2h0M635.2 418.0h0M980.8 768.3h0M671.4 160.1h0M617.4 376.7h0M630.1 452.4h0M558.5 776.0h0M424.9 438.0h0M720.0 172.9h0M950.6 701.8h0M506.4 541.8h0M469.2 596.5h0M185.5 529.3h0M693.4 178.6h0M617.1 234.7h0M701.6 136.8h0M505.5 375.2h0M693.2 154.5h0M949.2 760.0h0M674.6 164.4h0M203.7 534.9h0M511.7 572.7h0M705.3 185.9h0M602.1 415.9h0M981.2 780.4h0M946.9 767.6h0M952.1 781.3h0M1026.9 653.8h0M201.4 548.2h0M458.7 450.0h0M690.7 460.5h0M997.6 785.5h0M706.0 469.6h0M618.5 237.6h0M698.3 158.1h0M719.9 583.6h0M199.0 530.9h0M757.4 196.8h0M1043.3 717.6h0M1020.8 637.2h0M454.2 570.8h0M237.9 533.0h0M619.0 782.3h0M738.3 178.1h0M1048.5 750.0h0M568.3 498.3h0M723.3 167.0h0M470.5 582.1h0M151.5 547.8h0M688.0 138.3h0M1005.5 766.8h0M199.8 569.3h0M698.9 170.1h0M1081.2 674.4h0M579.9 219.0h0M936.1 749.0h0M620.2 429.1h0M491.3 568.0h0M917.2 705.1h0M626.2 421.9h0M671.2 703.7h0M624.7 439.0h0M225.9 511.0h0M684.5 440.8h0M716.2 184.4h0M723.8 457.3h0M160.9 551.8h0M181.9 535.0h0M943.6 742.0h0M244.3 540.4h0M387.1 404.7h0M944.6 780.6h0M494.2 587.6h0M229.8 556.5h0M722.1 118.6h0M646.7 921.0h0M490.6 585.5h0M208.1 526.9h0M523.9 557.4h0M501.0 360.7h0M580.8 242.8h0M673.5 706.4h0M756.8 592.8h0M803.5 320.0h0M690.0 118.6h0M505.5 548.8h0M757.5 562.5h0M680.5 137.5h0M404.1 417.6h0M954.4 667.0h0M986.1 779.7h0M473.1 456.6h0M622.3 386.0h0M426.0 398.0h0M675.1 145.6h0M435.2 574.2h0M434.7 568.9h0M201.8 527.8h0M1004.4 677.8h0M623.9 239.6h0M721.3 837.5h0M979.3 771.5h0M659.2 683.0h0M700.0 182.5h0M432.5 566.6h0M912.3 578.3h0M739.0 162.9h0M681.1 700.2h0M157.4 559.4h0M642.8 668.1h0M786.8 602.1h0M790.2 306.3h0M244.3 571.8h0M713.3 119.1h0M483.9 578.3h0M720.0 127.3h0M741.4 175.2h0M214.6 522.8h0M490.7 353.3h0M212.9 526.9h0M628.4 669.4h0M249.2 572.3h0M582.4 766.6h0M1017.7 648.4h0M998.5 734.4h0M1026.3 658.6h0M655.3 247.0h0M606.1 427.9h0M521.7 542.6h0M151.4 552.0h0M1033.0 748.9h0M920.0 736.9h0M975.0 724.7h0M443.5 576.0h0M932.5 747.6h0M482.5 451.0h0M1025.1 687.6h0M265.0 490.5h0M720.6 473.6h0M422.8 442.6h0M189.3 524.8h0M997.6 743.4h0M472.7 598.6h0M448.8 577.3h0M670.2 696.6h0M1029.7 705.3h0M980.7 776.0h0M719.6 151.9h0M576.3 781.8h0M445.9 568.6h0M436.3 554.1h0M723.7 850.0h0M195.0 516.5h0M1027.6 770.0h0M666.5 462.8h0M693.6 126.1h0M705.2 135.0h0M792.5 594.4h0M662.9 429.5h0M682.8 164.0h0M842.7 283.9h0M980.0 766.6h0M987.5 688.2h0M218.6 501.6h0M601.6 418.9h0M675.6 128.7h0M175.8 554.2h0M738.4 136.9h0M179.9 559.7h0M475.0 461.9h0M958.3 723.1h0M211.8 543.9h0M656.4 657.2h0M739.2 587.0h0M683.2 149.8h0M462.7 567.0h0M997.4 764.9h0M168.2 532.7h0M185.0 532.2h0M173.9 536.4h0M406.2 411.8h0M464.7 454.0h0M694.0 429.3h0M576.7 456.7h0M737.6 469.7h0M403.8 404.6h0M652.3 681.3h0M948.5 730.8h0M169.9 564.1h0M1056.6 651.9h0M433.9 571.8h0M702.3 182.3h0M980.7 725.0h0M462.0 412.0h0M727.8 173.6h0M961.3 760.9h0M831.9 279.6h0M750.1 159.5h0M972.6 710.4h0M1004.3 732.0h0M743.0 180.1h0M680.0 119.6h0M1064.3 655.1h0M638.9 405.9h0M472.2 593.2h0M1036.6 720.8h0M438.8 571.0h0M1016.7 650.6h0M697.8 152.2h0M1054.2 712.1h0M216.8 530.7h0M1072.0 729.9h0M928.1 742.2h0M945.6 730.4h0M973.6 758.3h0M955.1 698.6h0M169.7 531.0h0M551.0 220.9h0M218.4 522.2h0M761.6 591.5h0M495.8 457.9h0M695.6 167.3h0M597.5 448.9h0M957.6 729.5h0M1014.1 749.5h0M729.5 460.9h0M693.8 158.4h0M147.8 551.0h0M974.5 695.8h0M470.1 572.3h0M613.8 442.5h0M212.2 511.6h0M641.7 454.8h0M819.7 784.2h0M408.7 419.1h0M511.2 395.7h0M597.8 232.5h0M234.9 546.1h0M1073.1 724.0h0M711.0 429.6h0M624.6 389.1h0M529.3 560.8h0M203.5 551.0h0M391.5 416.4h0M657.6 425.8h0M165.7 538.2h0M517.0 545.2h0M199.5 521.9h0M501.0 586.4h0M959.9 772.2h0M419.9 442.6h0M944.0 684.0h0M393.9 412.3h0M480.3 586.6h0M400.9 428.5h0M1001.0 665.0h0M680.0 123.5h0M387.9 407.3h0M796.8 301.2h0M803.6 307.6h0M933.1 707.0h0M566.1 233.6h0M485.8 464.9h0M984.2 716.3h0M829.9 291.2h0M261.2 492.0h0M510.8 543.2h0M228.4 521.6h0M178.1 513.9h0M738.1 176.2h0M396.7 419.6h0M635.9 412.8h0M989.1 687.9h0M921.6 713.3h0M469.8 599.2h0M392.3 421.2h0M408.0 413.9h0M575.1 225.9h0M447.3 586.0h0M982.4 759.9h0M744.9 179.7h0M426.6 443.6h0M561.3 232.0h0M710.6 116.2h0M608.4 396.4h0M721.1 469.9h0M730.6 147.7h0M1037.8 690.6h0M687.8 151.9h0M833.3 222.2h0M829.5 277.0h0M418.0 424.0h0M917.7 726.7h0M615.1 407.5h0M453.3 447.3h0M194.1 537.1h0M577.8 783.0h0M739.5 158.1h0M684.4 121.5h0M964.0 682.0h0M661.9 687.7h0M694.3 438.7h0M692.6 136.4h0M213.3 571.9h0M740.9 160.9h0M1072.8 642.9h0M180.4 545.0h0M1053.8 742.1h0M466.0 415.1h0M1034.0 725.4h0M987.6 636.2h0M715.9 439.1h0M658.3 463.0h0M1027.7 627.5h0M736.9 451.5h0M999.6 720.5h0M752.4 188.9h0M687.7 117.1h0M651.1 688.5h0M680.4 430.8h0M1008.6 675.6h0M690.7 422.3h0M924.1 735.5h0M245.0 498.8h0M1057.4 648.2h0M559.3 234.2h0M690.1 122.5h0M550.5 772.9h0M925.9 786.6h0M617.1 651.9h0M182.8 528.7h0M605.0 234.7h0M957.5 712.7h0M466.6 574.4h0M719.6 145.5h0M787.0 260.0h0M596.8 460.4h0M167.5 526.7h0M632.1 666.1h0M617.2 423.4h0M726.7 136.6h0M1002.4 722.2h0M580.3 225.0h0M634.0 453.9h0"/>
<path class="c13" d="M732.0 223.0h0M728.1 164.1h0M423.6 435.6h0M753.0 184.0h0M855.1 289.2h0M597.0 395.2h0M718.7 471.6h0M576.5 229.1h0M644.7 415.3h0M1029.2 712.6h0M656.8 461.8h0M506.0 562.6h0M166.1 521.1h0M614.6 653.2h0M450.3 581.2h0M530.0 425.0h0M423.3 408.7h0M545.7 509.0h0M1048.1 650.8h0M603.3 406.3h0M386.0 406.2h0M635.1 430.1h0M937.6 726.5h0M689.2 142.9h0M607.6 466.0h0M521.1 528.2h0M394.4 407.7h0M685.6 137.2h0M207.2 551.3h0M200.8 555.0h0M554.0 215.2h0M754.0 171.0h0M618.3 383.0h0M563.0 779.9h0M623.0 450.0h0M780.6 588.4h0M713.4 476.3h0M932.6 782.7h0M712.7 130.1h0M683.3 118.3h0M1068.1 653.5h0M702.5 456.3h0M818.5 304.7h0M934.4 744.1h0M927.9 751.7h0M622.2 672.2h0M950.9 755.6h0M1061.2 687.1h0M718.9 478.6h0M490.0 477.5h0M607.8 461.7h0M619.3 235.5h0M955.0 733.9h0M974.4 782.0h0M937.9 781.6h0M718.0 464.2h0M609.4 464.7h0M622.0 662.2h0M611.7 408.6h0M939.1 721.0h0M1020.9 707.7h0M471.6 579.5h0M694.9 437.0h0M698.0 442.7h0M716.4 455.7h0M666.7 692.5h0M416.1 443.1h0M494.5 559.4h0M488.1 466.9h0M935.1 726.2h0M683.6 189.6h0M729.7 116.4h0M693.9 119.3h0M411.5 435.2h0M1011.3 624.1h0M480.9 569.0h0M214.8 532.9h0M927.3 770.7h0M717.6 140.1h0M981.9 672.7h0M174.0 532.9h0M216.8 502.7h0M701.0 427.5h0M765.2 208.6h0M1057.9 679.9h0M661.0 658.9h0M576.7 440.0h0M485.5 587.2h0M240.4 532.3h0M671.1 434.1h0M975.7 690.6h0M167.6 529.5h0M568.1 225.5h0M227.9 535.1h0M975.6 771.8h0M1059.9 681.9h0M725.1 142.4h0M554.0 213.1h0M586.0 227.1h0M732.9 148.4h0M216.4 516.1h0M976.6 721.4h0M697.0 431.6h0M949.0 778.2h0M507.6 569.3h0M968.0 703.7h0M611.3 448.5h0M1055.2 722.1h0M161.3 557.2h0M684.5 155.8h0M489.9 587.6h0M1038.7 704.6h0M770.8 204.6h0M517.6 561.3h0M682.8 170.5h0M692.0 173.3h0M718.0 120.8h0M1016.5 719.8h0M680.5 153.9h0M464.7 440.3h0M988.7 677.7h0M604.2 435.0h0M633.7 420.6h0M705.3 435.0h0M471.7 468.1h0M657.5 689.1h0M240.7 568.7h0M701.6 133.7h0M491.5 582.2h0M734.9 165.2h0M988.1 750.2h0M648.9 459.1h0M952.2 742.5h0M747.5 201.9h0M564.0 227.7h0M228.8 544.0h0M507.8 554.1h0M733.7 447.8h0M1048.0 698.4h0M689.7 132.1h0M640.0 465.8h0M726.9 125.3h0M1049.9 689.5h0M677.0 244.0h0M640.6 407.6h0M490.3 453.2h0M486.2 592.8h0M1047.5 715.0h0M486.2 454.0h0M736.3 198.0h0M969.1 708.0h0M490.5 466.3h0M745.8 169.0h0M985.3 703.1h0M179.8 526.9h0M498.0 477.5h0M623.0 444.6h0M1009.1 741.5h0M404.0 425.2h0M1063.2 700.9h0M1031.0 706.7h0M613.6 427.3h0M990.6 705.4h0M725.7 170.9h0M1027.3 714.0h0M488.1 462.2h0M718.2 451.0h0M732.4 212.0h0M558.3 215.5h0M698.0 189.4h0M150.5 560.0h0M921.9 708.5h0M709.6 431.8h0M1014.9 629.0h0M510.0 383.6h0M652.8 454.0h0M616.0 421.2h0M966.9 722.8h0M621.3 455.7h0M435.9 552.4h0M742.6 142.4h0M577.5 462.5h0M1018.1 674.4h0M647.3 418.3h0M480.1 448.6h0M1011.7 711.1h0M567.4 231.4h0M567.4 239.2h0M433.6 537.2h0M943.9 738.3h0M655.0 247.0h0M1020.2 746.1h0M1006.3 744.6h0M528.1 543.9h0M623.6 410.1h0M208.3 540.5h0M707.6 163.9h0M613.3 658.3h0M386.2 417.1h0M750.0 146.0h0M507.3 547.4h0M188.8 517.7h0M994.1 720.9h0M955.4 759.2h0M689.0 241.0h0M747.3 157.5h0M153.8 553.2h0M633.1 684.1h0M1049.8 729.4h0M678.8 699.3h0M591.7 766.7h0M193.9 535.3h0M964.1 709.8h0M740.1 172.2h0M1005.2 726.0h0M1042.2 710.7h0M623.2 396.5h0M696.0 225.0h0M988.4 714.4h0M432.7 535.5h0M722.9 136.0h0M554.5 769.9h0M991.8 758.3h0M583.7 224.3h0M968.6 757.1h0M1029.1 695.0h0M688.0 442.5h0M574.8 760.2h0M580.8 782.6h0M474.6 448.4h0M682.7 432.4h0M730.4 181.2h0M190.2 552.6h0M612.8 672.6h0M445.7 589.3h0M727.8 467.5h0M185.1 514.8h0M808.7 312.6h0M715.1 469.4h0M1056.3 721.1h0M767.2 603.0h0M966.8 707.0h0M567.7 781.2h0M1009.8 720.6h0M1002.7 662.6h0M181.2 561.0h0M571.7 496.7h0M214.5 501.4h0M444.5 537.5h0M527.6 548.7h0M835.5 281.2h0M839.9 282.7h0M592.3 226.1h0M611.6 235.2h0M749.3 717.3h0M699.5 437.3h0M615.1 663.7h0M1003.0 773.4h0M436.6 550.0h0M183.4 508.8h0M488.3 458.4h0M986.4 750.5h0M697.3 140.0h0M159.2 549.6h0M1028.0 765.1h0M1067.7 667.9h0M625.7 702.4h0M690.9 732.7h0M238.6 542.1h0M737.9 156.7h0M827.3 225.6h0M970.7 736.0h0M155.6 551.0h0M689.0 178.0h0M694.5 136.8h0M929.7 779.3h0M725.8 192.6h0M826.4 283.4h0M723.0 152.1h0M174.9 543.8h0M987.8 701.9h0M573.4 776.0h0M1043.1 745.9h0M704.6 139.9h0M1016.3 750.1h0M1076.5 655.2h0M944.2 750.3h0M514.2 539.8h0M976.1 777.8h0M740.5 456.4h0M473.8 466.9h0M938.1 730.2h0M620.9 407.0h0M206.8 548.0h0M432.0 438.7h0M817.9 280.6h0M757.7 209.2h0M1038.2 752.7h0M662.5 708.3h0M682.4 129.5h0M615.7 392.7h0M184.1 555.0h0M692.0 250.0h0M484.5 561.1h0M824.3 243.0h0M483.0 571.2h0M1012.8 664.1h0M169.0 548.4h0M1046.0 674.4h0M667.0 249.0h0M599.2 384.5h0M653.3 464.2h0M472.5 546.2h0M947.9 791.0h0M1063.1 739.7h0M182.3 566.4h0M611.4 426.0h0M557.6 231.1h0M1008.1 715.2h0M628.6 237.5h0M687.1 142.3h0M613.6 465.1h0M614.0 670.8h0M391.9 423.8h0M965.1 715.1h0M985.0 687.0h0M393.2 426.9h0M706.5 462.2h0M676.3 134.0h0M690.0 427.6h0M1051.5 646.3h0M1006.7 733.2h0M798.1 304.5h0M512.5 388.8h0M928.7 706.9h0M724.6 465.8h0M761.9 216.5h0M550.4 764.0h0M206.2 544.9h0M712.3 140.3h0M631.3 421.2h0M551.0 775.4h0M241.3 566.2h0M500.5 566.8h0M219.5 525.5h0M980.6 699.8h0M680.8 125.8h0M426.9 551.1h0M703.7 443.6h0M635.7 425.1h0M500.0 505.0h0M610.0 460.7h0M690.0 171.7h0M568.4 764.4h0M686.9 420.5h0M474.5 570.6h0M1048.3 743.0h0M451.8 583.8h0M672.4 151.9h0M605.6 396.6h0M687.6 122.9h0M972.0 715.4h0M493.7 576.5h0M168.7 556.5h0M1007.6 629.4h0M595.8 412.5h0M507.2 379.4h0M783.7 602.3h0M733.2 181.5h0M813.1 302.7h0M1012.4 743.6h0M774.2 207.6h0M438.7 538.8h0M825.3 232.6h0M975.0 665.0h0M739.7 128.3h0M700.5 431.5h0M961.7 672.1h0M189.9 505.4h0M1085.2 682.7h0M1007.1 721.7h0M570.9 222.7h0M216.9 548.9h0M588.9 461.0h0M976.7 737.4h0M1062.8 641.7h0M918.6 736.2h0M1063.6 674.3h0M965.7 777.9h0M859.3 283.7h0M948.8 728.9h0M450.2 563.3h0M483.1 564.5h0M801.6 208.4h0M704.2 128.8h0M630.3 420.9h0M823.7 223.3h0M735.3 148.8h0M1076.4 701.7h0M643.3 243.0h0M624.5 696.5h0M624.2 415.5h0M994.7 690.7h0M222.0 552.7h0M625.9 670.0h0M618.6 407.7h0M795.3 221.2h0M1034.6 752.3h0M150.9 538.0h0M407.7 397.5h0M618.5 645.5h0M194.8 556.0h0M714.3 155.1h0M160.9 554.6h0M1056.5 734.9h0M595.0 741.7h0M158.8 532.9h0M740.8 177.2h0M639.3 426.4h0M591.8 454.0h0M625.7 237.8h0M948.2 723.8h0M195.5 538.2h0M710.4 439.1h0M960.0 676.0h0M742.3 461.6h0M750.1 192.0h0M968.6 734.2h0M521.6 554.9h0M1074.5 661.4h0M563.3 212.5h0M932.0 752.0h0M688.9 449.7h0M697.6 146.9h0M503.8 528.0h0M444.4 592.0h0M968.1 748.4h0M811.3 304.2h0M623.8 401.8h0M561.1 764.8h0M430.5 554.2h0M549.8 219.6h0M730.9 133.0h0M963.2 790.1h0M940.8 730.2h0M1038.5 746.4h0M929.4 679.0h0M706.1 152.5h0M435.3 442.7h0M957.6 759.5h0M1043.6 662.9h0M192.2 537.3h0M471.1 456.5h0M931.9 754.3h0M501.2 508.0h0M171.8 547.8h0M440.9 584.0h0M223.3 506.2h0M695.2 149.9h0M597.2 393.4h0M650.5 423.3h0M615.6 691.0h0M705.4 189.0h0"/>
<path class="c14" d="M177.3 541.9h0M1018.0 748.9h0M557.5 779.2h0M769.4 602.0h0M710.1 176.6h0M1084.6 671.0h0M1031.7 740.3h0M729.7 127.8h0M572.8 783.1h0M151.9 555.9h0M483.9 458.5h0M1025.2 703.6h0M440.1 543.1h0M755.6 535.9h0M698.4 174.4h0M1011.6 735.2h0M214.5 520.5h0M677.3 167.7h0M957.5 725.7h0M774.0 557.6h0M493.1 457.4h0M518.1 526.8h0M750.5 602.3h0M1025.5 735.1h0M590.0 771.7h0M229.0 552.5h0M561.4 782.8h0M1029.3 776.5h0M427.0 547.8h0M742.8 120.5h0M713.9 163.1h0M670.0 247.0h0M1039.9 736.0h0M614.6 697.6h0M575.8 771.2h0M674.9 123.2h0M162.2 562.5h0M403.3 414.7h0M715.8 853.3h0M739.8 453.9h0M643.2 459.6h0M639.5 454.7h0M221.1 550.5h0M1025.2 711.2h0M1026.4 732.2h0M506.8 583.9h0M804.6 303.8h0M845.9 295.7h0M1030.3 658.2h0M649.3 427.9h0M1019.1 721.1h0M478.9 453.8h0M399.1 395.7h0M741.2 140.3h0M153.8 557.6h0M635.5 689.4h0M940.1 741.6h0M577.9 219.0h0M606.8 414.9h0M708.8 134.5h0M996.5 635.7h0M986.9 719.8h0M737.4 161.7h0M641.9 660.1h0M835.6 292.5h0M932.0 744.9h0M532.0 238.3h0M166.2 543.4h0M977.6 759.3h0M390.0 406.2h0M936.1 761.3h0M1046.3 730.8h0M947.1 728.2h0M400.6 423.3h0M731.5 455.6h0M415.3 420.7h0M1025.9 742.9h0M725.4 123.2h0M740.6 142.9h0M198.0 507.3h0M613.1 663.0h0M180.0 508.3h0M194.0 525.7h0M679.6 127.3h0M604.1 386.2h0M701.0 115.3h0M1079.9 705.9h0M994.7 745.3h0M783.8 595.4h0M628.3 662.6h0M422.5 439.7h0M688.0 249.0h0M941.2 737.4h0M630.1 238.5h0M480.8 571.8h0M549.6 224.5h0M633.9 674.9h0M826.5 295.9h0M539.2 248.7h0M928.1 755.8h0M585.2 233.9h0M626.9 401.7h0M608.4 413.6h0M672.0 122.7h0M608.9 454.7h0M853.6 294.3h0M695.8 147.6h0M404.8 409.3h0M612.3 387.2h0M814.6 307.9h0M698.9 113.9h0M167.8 538.7h0M627.4 448.9h0M701.3 148.1h0M645.8 243.7h0M1009.2 756.3h0M960.4 677.3h0M718.1 456.4h0M480.0 543.8h0M211.6 503.4h0M616.4 399.5h0M966.6 738.8h0M731.0 471.1h0M603.5 459.0h0M607.4 456.8h0M189.3 527.4h0M916.0 722.7h0M995.2 770.4h0M709.9 178.4h0M755.6 187.2h0M1032.7 678.2h0M747.6 593.8h0M660.1 461.2h0M778.3 604.3h0M515.7 398.3h0M1052.1 639.4h0M772.3 595.8h0M1039.2 709.8h0M1081.5 691.3h0M1019.0 741.6h0M496.7 456.0h0M691.7 448.0h0M680.4 438.8h0M157.4 533.9h0M940.7 758.8h0M495.0 500.0h0M689.1 124.2h0M215.2 544.6h0M728.2 589.6h0M724.0 119.1h0M760.6 603.5h0M734.0 162.6h0M991.3 683.2h0M483.3 437.3h0M706.6 160.3h0M996.8 766.9h0M563.7 220.5h0M202.3 545.3h0M853.7 292.5h0M1066.6 648.8h0M611.1 664.6h0M550.6 227.9h0M723.1 141.2h0M999.9 728.8h0M179.1 542.0h0M761.7 568.3h0M930.4 775.8h0M481.1 454.3h0M483.4 575.4h0M744.7 141.3h0M691.3 156.2h0M1009.3 712.0h0M1024.3 690.0h0M724.7 144.9h0M964.8 754.0h0M737.2 169.8h0M1007.7 758.6h0M731.0 448.0h0M485.6 468.2h0M522.0 455.0h0M1010.9 650.2h0M602.7 467.7h0M226.3 515.9h0M746.3 537.0h0M489.7 472.3h0M201.4 538.2h0M513.4 535.2h0M676.0 248.0h0M1052.1 746.4h0M440.6 562.1h0M216.5 519.7h0M715.1 458.3h0M681.7 448.2h0M795.8 307.3h0M564.5 229.4h0M173.9 562.9h0M496.7 348.3h0M575.8 779.9h0M714.8 124.4h0M985.1 710.5h0M706.2 133.2h0M571.0 220.6h0M1054.8 706.5h0M974.0 760.7h0M657.8 457.2h0M732.9 131.0h0M768.5 222.0h0M748.5 181.9h0M629.3 407.9h0M816.0 294.0h0M1075.5 714.1h0M960.2 731.6h0M683.7 451.5h0M470.4 599.6h0M172.5 554.6h0M732.8 453.4h0M580.9 769.7h0M724.4 451.6h0M730.2 473.2h0M766.1 592.0h0M718.6 467.8h0M441.4 587.8h0M765.5 551.4h0M401.3 411.4h0M639.2 243.3h0M992.9 718.7h0M511.6 555.5h0M1055.7 689.4h0M1019.7 701.6h0M729.8 462.9h0M838.1 219.9h0M1044.6 712.9h0M188.5 542.6h0M849.2 297.5h0M739.9 183.9h0M621.9 440.2h0M517.4 529.8h0M990.9 713.6h0M964.0 661.0h0M800.0 565.8h0M975.3 669.8h0M179.9 530.2h0M225.8 529.9h0M832.9 227.1h0M476.6 583.6h0M1003.8 734.7h0M948.1 746.1h0M170.3 560.4h0M731.5 126.7h0M600.4 227.5h0M760.2 548.4h0M597.1 234.1h0M625.0 417.1h0M820.8 282.1h0M205.1 533.8h0M579.3 769.9h0M183.1 515.4h0M193.9 514.2h0M769.6 592.0h0M515.4 395.5h0M964.3 765.8h0M608.0 452.5h0M586.7 231.8h0M207.5 543.1h0M628.9 395.1h0M601.8 407.2h0M789.0 208.9h0M514.1 569.4h0M950.0 695.0h0M793.7 309.0h0M1037.6 719.1h0M1045.9 665.6h0M720.4 456.0h0M691.6 209.6h0M1045.7 691.0h0M686.6 119.8h0M637.1 417.4h0M673.1 138.3h0M521.3 564.3h0M783.0 287.0h0M672.4 154.5h0M179.0 510.8h0M641.7 414.7h0M452.3 577.5h0M921.0 766.1h0M855.9 293.1h0M758.6 599.2h0M736.1 588.7h0M1030.8 703.7h0M750.4 155.5h0M475.6 591.0h0M1041.3 747.3h0M623.3 421.8h0M737.0 181.3h0M702.4 140.8h0M988.7 716.3h0M703.6 430.6h0M450.7 569.4h0M736.1 176.7h0M619.7 452.8h0M998.3 697.4h0M751.8 541.9h0M762.8 589.6h0M992.8 771.8h0M422.7 416.0h0M605.4 422.8h0M181.3 542.1h0M578.7 778.6h0M175.8 527.7h0M964.7 673.2h0M694.7 165.3h0M1058.2 689.7h0M510.1 563.4h0M417.3 434.4h0M605.3 410.4h0M684.4 114.3h0M461.3 573.1h0M981.2 718.7h0M462.5 585.9h0M787.2 303.0h0M923.2 725.2h0M706.1 451.1h0M738.6 450.7h0M1047.4 702.3h0M718.9 170.7h0M751.0 276.0h0M604.1 463.6h0M1031.1 691.9h0M529.6 535.0h0M623.5 453.2h0M978.5 765.4h0M157.7 555.6h0M495.9 583.4h0M765.2 224.9h0M502.5 564.9h0M556.9 221.3h0M960.1 712.0h0M792.7 590.8h0M403.2 407.6h0M1032.5 663.1h0M778.4 207.4h0M629.5 433.0h0M634.3 433.0h0M802.3 305.6h0M938.0 770.3h0M630.7 418.0h0M725.9 585.9h0M632.5 239.1h0M702.0 161.2h0M617.7 385.9h0M775.3 586.6h0M717.4 142.5h0M584.4 221.2h0M759.7 590.9h0M568.7 227.2h0M607.6 684.3h0M1050.7 720.5h0M933.0 764.3h0M703.2 171.0h0M956.0 732.3h0M725.2 187.1h0M400.9 419.3h0M971.5 670.2h0M1042.8 763.4h0M429.3 416.7h0M687.5 432.3h0M649.6 674.2h0M650.0 244.0h0M697.3 447.4h0M747.7 147.8h0M980.3 740.2h0M510.2 570.8h0M582.8 780.1h0M527.9 535.4h0M1043.1 741.4h0M714.9 169.6h0M929.9 783.2h0M260.0 496.2h0M685.6 168.0h0M987.4 712.3h0M765.1 231.6h0M493.8 506.2h0M190.4 510.1h0M599.6 462.2h0M623.3 778.3h0M761.7 186.8h0M629.3 404.6h0M960.9 715.0h0M1072.8 678.5h0M693.1 447.0h0M206.6 502.4h0M597.9 228.4h0M1049.0 674.5h0M772.5 212.0h0M966.1 780.7h0M953.2 724.1h0M707.7 436.8h0M750.8 181.5h0M1020.8 694.4h0M1045.7 639.7h0M599.4 412.9h0M183.9 560.0h0M733.4 459.0h0M709.9 457.0h0M972.1 683.3h0M975.1 701.5h0M1050.6 654.6h0M744.2 176.3h0M652.5 455.0h0M612.1 456.3h0M692.4 167.2h0M520.4 534.7h0M752.4 594.3h0M175.6 558.5h0M228.5 521.5h0M953.2 714.7h0M566.9 773.9h0M992.1 739.8h0M481.9 561.2h0M1052.6 703.0h0M1009.8 697.9h0M603.9 400.7h0M996.6 755.3h0M950.7 727.2h0M1028.1 750.0h0M985.6 658.2h0M1046.2 648.6h0M968.2 691.1h0M188.9 536.4h0M597.2 385.8h0M518.8 522.5h0M709.6 146.0h0M184.4 520.6h0M968.6 696.3h0M946.7 778.9h0M621.5 235.4h0M1000.5 682.8h0M610.8 699.0h0M456.8 595.3h0M752.0 148.0h0M1034.3 767.9h0M525.6 553.7h0M390.1 422.8h0M497.5 497.0h0M635.2 407.1h0M656.1 684.6h0M725.0 237.0h0M564.9 768.2h0M180.8 524.8h0M570.9 783.2h0M949.3 786.4h0"/>
<path class="c15" d="M472.8 564.7h0M725.4 138.6h0M665.6 432.0h0M1036.2 760.8h0M676.5 148.7h0M697.5 180.6h0M703.3 434.2h0M707.6 259.0h0M570.8 767.6h0M795.9 588.0h0M710.0 172.9h0M532.5 450.0h0M516.2 457.5h0M974.4 716.9h0M720.3 441.2h0M520.0 452.5h0M617.2 409.7h0M950.9 743.8h0M915.7 563.3h0M1045.8 747.8h0M157.4 542.7h0M701.0 467.4h0M204.6 538.6h0M1001.0 739.2h0M946.5 701.3h0M939.5 763.1h0M1060.2 717.2h0M478.9 583.3h0M477.7 577.0h0M175.7 530.1h0M731.8 179.9h0M602.4 381.9h0M685.7 117.4h0M594.1 448.7h0M1006.2 769.4h0M698.8 419.5h0M645.0 409.8h0M166.1 518.4h0M665.4 458.5h0M438.0 409.3h0M794.0 253.0h0M239.2 531.2h0M778.1 209.8h0M1013.2 755.1h0M997.8 760.0h0M1002.8 725.6h0M762.7 603.1h0M713.8 180.4h0M441.6 566.1h0M1036.0 737.0h0M601.4 440.0h0M715.2 116.6h0M572.2 226.6h0M242.5 507.5h0M181.9 559.2h0M667.4 438.7h0M771.4 590.7h0M196.2 501.1h0M459.6 593.5h0M444.9 573.9h0M614.1 448.8h0M727.9 446.9h0M941.4 773.8h0M511.8 540.5h0M621.5 681.9h0M689.1 161.5h0M163.5 540.1h0M698.4 255.6h0M571.7 765.4h0M231.3 512.8h0M658.4 673.6h0M674.0 249.0h0M706.6 129.6h0M557.9 770.9h0M1024.9 678.9h0M1049.3 737.9h0M429.8 567.4h0M1077.0 673.9h0M582.7 763.3h0M1052.4 716.6h0M741.1 201.2h0M758.8 596.8h0M769.3 209.3h0M832.7 287.3h0M604.0 419.5h0M780.0 258.0h0M1016.0 626.3h0M256.2 502.5h0M994.1 632.1h0M621.6 393.8h0M618.6 433.1h0M696.6 133.8h0M427.3 401.3h0M1011.6 671.2h0M705.6 183.7h0M606.9 691.1h0M745.8 150.3h0M959.6 761.7h0M715.7 472.2h0M716.6 447.6h0M974.4 666.0h0M709.5 444.0h0M963.0 753.5h0M929.7 726.5h0M766.6 547.9h0M606.5 417.6h0M620.3 460.0h0M934.8 773.8h0M619.0 409.8h0M740.9 146.7h0M1015.4 706.0h0M1036.3 707.9h0M197.9 524.7h0M440.7 577.5h0M924.0 716.0h0M406.7 401.6h0M985.5 724.8h0M994.4 677.5h0M602.1 394.3h0M992.6 707.5h0M650.8 243.3h0M957.2 757.2h0M1040.9 761.1h0M510.9 576.6h0M438.7 551.6h0M181.8 510.4h0M617.0 418.3h0M592.2 457.5h0M712.5 462.7h0M610.6 395.0h0M250.0 572.0h0M605.4 230.3h0M977.7 749.3h0M727.1 450.3h0M483.3 594.5h0M501.3 451.3h0M740.1 135.8h0M671.6 440.7h0M800.5 568.3h0M1051.8 736.5h0M1051.6 688.1h0M976.6 753.9h0M713.7 448.4h0M633.4 658.6h0M643.3 403.5h0M983.1 725.3h0M668.2 443.1h0M949.2 788.4h0M658.2 430.0h0M606.9 398.5h0M848.2 296.8h0M1004.9 642.6h0M1006.6 724.0h0M710.3 446.1h0M553.3 228.3h0M571.2 780.3h0M966.5 760.7h0M149.9 546.6h0M699.5 161.0h0M1025.4 749.6h0M708.1 449.0h0M837.7 290.4h0M410.5 401.8h0M761.3 542.8h0M972.2 696.0h0M753.7 601.3h0M741.6 597.2h0M761.9 557.4h0M970.1 711.5h0M685.4 140.6h0M725.4 461.9h0M623.8 432.8h0M484.1 466.9h0M766.8 561.3h0M994.4 723.8h0M718.8 435.7h0M696.7 127.8h0M983.4 693.2h0M775.5 212.6h0M738.1 172.9h0M502.2 573.8h0M525.9 552.8h0M1045.9 637.1h0M924.8 719.3h0M827.8 239.6h0M575.4 231.8h0M931.5 718.3h0M727.2 130.4h0M998.5 631.0h0M412.0 415.3h0M1014.4 692.1h0M996.4 776.7h0M457.6 567.8h0M187.8 554.2h0M632.2 697.6h0M711.3 440.9h0M1005.7 762.8h0M471.9 595.2h0M1053.8 722.4h0M605.7 384.2h0M480.2 459.6h0M732.1 450.5h0M672.5 128.0h0M674.6 453.6h0M747.4 152.0h0M695.7 156.0h0M755.1 594.0h0M586.7 753.3h0M445.4 563.3h0M768.5 589.7h0M191.6 518.0h0M726.5 444.2h0M1049.1 663.3h0M739.0 463.9h0M679.0 247.0h0M448.0 580.0h0M967.6 684.5h0M210.4 512.7h0M585.2 230.0h0M732.6 445.0h0M1043.1 743.8h0M1040.1 744.9h0M456.1 589.6h0M703.5 155.9h0M1059.6 650.7h0M217.8 524.7h0M612.8 396.7h0M570.9 235.7h0M812.6 319.0h0M572.1 235.2h0M1013.1 741.2h0M566.2 214.3h0M471.9 576.0h0M973.8 719.4h0M479.6 594.7h0M607.6 436.6h0M601.4 392.7h0M673.0 246.0h0M395.2 413.7h0M504.9 558.4h0M954.9 746.2h0M288.8 391.2h0M205.8 535.5h0M878.3 363.3h0M962.2 755.6h0M696.9 162.3h0M936.1 766.3h0M390.2 413.8h0M721.7 477.7h0M500.0 346.7h0M615.1 460.8h0M436.0 428.0h0M1044.3 757.9h0M832.2 293.1h0M1060.3 666.4h0M981.9 663.0h0M689.5 457.5h0M493.5 461.4h0M856.2 288.8h0M971.7 673.4h0M510.8 512.5h0M978.3 775.0h0M573.7 223.1h0M951.6 786.3h0M602.4 429.8h0M727.0 236.0h0M712.9 466.2h0M725.4 161.5h0M973.3 667.8h0M1031.4 699.2h0M1045.2 718.7h0M570.3 217.8h0M480.0 543.3h0M212.2 501.5h0M463.9 594.6h0M1072.9 699.8h0M1016.3 746.3h0M999.5 747.6h0M1004.7 770.7h0M490.1 464.2h0M1026.4 635.0h0M468.3 580.8h0M401.5 421.0h0M1040.1 766.8h0M616.8 465.2h0M1071.5 649.9h0M986.2 722.3h0M411.6 405.2h0M783.0 284.0h0M248.0 575.3h0M180.7 539.4h0M949.8 715.2h0M613.0 392.8h0M851.2 293.4h0M1013.2 753.1h0M567.2 765.5h0M193.1 542.8h0M654.3 425.1h0M615.8 440.5h0M734.5 472.8h0M789.2 218.3h0M566.4 776.5h0M1005.4 647.8h0M698.5 137.9h0M683.8 139.3h0M1026.4 677.2h0M635.7 670.4h0M614.1 412.7h0M800.5 582.5h0M612.1 405.0h0M760.1 598.1h0M619.7 418.4h0M604.0 455.0h0M671.8 129.9h0M508.3 572.9h0M729.5 590.9h0M570.1 784.6h0M1067.6 672.4h0M498.4 576.2h0M1071.5 655.6h0M988.5 722.3h0M1037.6 693.2h0M728.8 160.8h0M514.2 574.4h0M770.0 575.8h0M668.3 430.5h0M1012.1 687.9h0M213.5 534.1h0M1023.3 663.2h0M205.2 525.6h0M698.6 459.2h0M992.5 683.5h0M999.5 762.7h0M732.6 469.6h0M583.3 455.8h0M612.4 416.0h0M549.9 252.7h0M676.9 153.9h0M775.1 591.8h0M194.4 512.2h0M731.3 593.8h0M462.2 579.5h0M477.3 462.3h0M731.3 143.0h0M1017.0 692.4h0M634.0 409.6h0M938.0 746.1h0M764.7 554.2h0M1036.9 703.5h0M609.0 387.2h0M942.2 723.8h0M1069.3 648.2h0M720.2 164.1h0M549.2 250.8h0M490.0 581.4h0M1000.5 777.6h0M627.8 415.3h0M837.1 292.7h0M695.5 176.6h0M921.0 554.0h0M702.6 165.1h0M982.6 775.1h0M1021.9 701.2h0M715.9 150.1h0M531.3 237.5h0M508.5 581.5h0M913.0 699.0h0M706.6 169.8h0M1001.4 774.3h0M497.7 570.6h0M923.2 730.5h0M938.8 758.1h0M713.5 127.0h0M613.2 384.0h0M499.2 563.8h0M878.3 363.3h0M526.0 543.6h0M744.3 143.8h0M985.5 740.2h0M678.5 445.7h0M993.6 755.2h0M655.0 700.5h0M590.7 226.6h0M651.5 429.6h0M1049.4 701.2h0M646.0 243.6h0M436.4 564.5h0M612.1 668.9h0M570.2 774.1h0M620.5 448.8h0M833.7 290.5h0M1034.2 719.8h0M938.4 774.6h0M1073.3 671.7h0M1001.8 759.8h0M161.1 517.1h0M753.6 549.6h0M934.8 779.4h0M570.0 228.1h0M692.7 123.0h0M195.6 542.3h0M774.5 210.3h0M1020.8 692.1h0M1021.8 726.0h0M834.0 230.1h0M603.1 398.0h0M1073.5 653.3h0M420.5 436.7h0M1016.7 727.9h0M1062.4 698.0h0M610.5 378.1h0M509.1 552.7h0M509.0 556.9h0M630.6 422.2h0M781.7 234.9h0M951.6 772.7h0M653.0 461.9h0M451.3 446.0h0M595.1 453.8h0M684.7 128.5h0M591.7 229.0h0M950.1 733.7h0M703.6 152.6h0M959.3 764.4h0"/>
<path class="c16" d="M617.5 391.3h0M740.5 598.3h0M626.0 391.4h0M442.2 559.4h0M624.0 393.2h0M708.9 128.3h0M496.6 576.5h0M1072.0 709.0h0M436.6 546.1h0M748.4 187.4h0M715.2 165.9h0M618.8 378.3h0M743.0 187.2h0M606.0 721.0h0M668.0 135.2h0M636.4 649.6h0M616.7 395.5h0M752.9 553.5h0M625.9 693.2h0M569.0 232.5h0M564.9 218.3h0M934.5 787.3h0M527.5 446.2h0M973.1 747.1h0M462.0 592.3h0M214.9 527.3h0M516.6 557.5h0M690.5 454.8h0M603.9 441.6h0M937.2 735.7h0M666.5 427.2h0M1061.7 715.0h0M688.0 233.0h0M467.9 590.6h0M1009.3 722.7h0M946.0 724.3h0M718.2 116.9h0M727.6 134.3h0M644.6 683.1h0M742.9 162.4h0M515.5 550.7h0M623.4 469.2h0M611.5 388.8h0M238.2 510.0h0M819.0 273.0h0M643.1 679.9h0M690.7 153.5h0M633.7 465.2h0M585.4 772.1h0M978.1 733.3h0M512.7 576.6h0M662.1 666.3h0M634.7 677.3h0M471.9 586.2h0M946.4 776.0h0M685.3 434.8h0M504.1 572.3h0M1028.5 696.8h0M807.6 317.8h0M600.1 407.0h0M172.5 530.2h0M942.3 740.8h0M668.5 982.0h0M995.6 742.7h0M729.7 125.9h0M593.5 229.7h0M588.8 246.4h0M516.2 537.7h0M611.6 381.7h0M429.3 414.0h0M638.0 703.4h0M830.8 231.0h0M647.2 693.9h0M751.4 222.9h0M1003.5 645.2h0M559.4 771.8h0M604.4 388.6h0M742.2 129.8h0M683.0 228.0h0M791.5 583.0h0M690.9 441.4h0M993.3 765.3h0M1008.4 738.1h0M636.0 680.9h0M737.0 122.3h0M826.3 276.7h0M745.2 174.4h0M1008.7 664.0h0M727.9 591.9h0M718.2 178.5h0M458.8 591.5h0M1038.8 713.9h0M219.3 506.5h0M632.9 651.5h0M708.1 472.4h0M716.3 467.3h0M993.3 697.2h0M511.2 445.0h0M708.5 460.0h0M776.8 592.2h0M577.3 775.5h0M947.5 755.9h0M553.7 765.0h0M177.1 544.4h0M622.8 416.9h0M1022.6 732.9h0M695.9 449.9h0M656.0 686.9h0M765.7 202.9h0M766.3 205.2h0M636.8 408.0h0M641.7 245.0h0M734.1 144.2h0M770.2 559.0h0M563.1 218.2h0M525.0 452.5h0M512.3 386.3h0M1024.8 675.6h0M677.3 429.7h0M788.1 587.2h0M626.7 399.2h0M722.0 451.6h0M932.0 757.9h0M171.1 518.9h0M564.0 765.3h0M999.4 694.9h0M750.6 184.0h0M719.2 180.4h0M383.8 410.0h0M1067.3 709.5h0M712.7 142.4h0M502.7 458.0h0M562.1 766.7h0M735.5 125.1h0M940.3 770.4h0M700.1 164.0h0M706.0 125.7h0M699.9 151.1h0M1052.9 677.8h0M604.0 450.8h0M631.2 418.8h0M947.9 726.3h0M744.2 151.1h0M947.2 687.6h0M960.6 757.2h0M1054.4 717.7h0M477.6 460.6h0M396.6 428.1h0M946.8 757.8h0M706.5 127.6h0M1029.5 766.1h0M437.1 572.8h0M439.4 540.7h0M1016.4 695.0h0M464.0 562.7h0M995.6 699.8h0M475.7 458.1h0M1034.7 759.3h0M595.4 416.3h0M1044.3 738.5h0M1057.2 729.6h0M474.7 567.8h0M717.3 453.3h0M782.3 221.0h0M1004.4 703.1h0M801.4 221.4h0M502.1 568.0h0M621.0 390.3h0M997.7 737.2h0M1009.0 718.9h0M736.2 184.9h0M1057.6 723.5h0M435.8 547.6h0M1013.8 674.1h0M233.1 541.3h0M1041.5 758.9h0M589.2 464.2h0M631.5 399.3h0M852.9 285.3h0M589.3 251.3h0M184.7 541.6h0M744.6 134.3h0M596.7 421.7h0M434.3 557.9h0M635.2 414.6h0M955.4 778.1h0M664.7 438.1h0M691.9 116.1h0M439.4 549.9h0M921.8 729.3h0M1021.0 696.6h0M1047.3 741.1h0M409.0 430.6h0M751.9 536.9h0M711.3 443.5h0M723.3 124.8h0M515.3 576.3h0M682.4 115.6h0M693.0 180.7h0M626.7 418.5h0M591.7 746.0h0M833.6 272.9h0M755.5 598.8h0M343.2 748.0h0M402.1 427.2h0M611.3 399.8h0M551.2 320.0h0M737.9 461.9h0M1008.3 673.2h0M789.8 585.0h0M568.9 777.0h0M998.2 702.3h0M446.3 581.1h0M759.1 203.4h0M642.0 244.4h0M725.5 470.2h0M155.0 536.9h0M683.4 134.7h0M560.9 770.2h0M198.1 542.1h0M997.7 745.6h0M712.5 445.1h0M680.6 134.8h0M975.9 781.7h0M692.9 182.3h0M559.1 780.0h0M938.9 743.2h0M523.8 447.5h0M997.2 684.8h0M630.8 464.5h0M706.6 431.3h0M1023.6 685.6h0M979.2 755.8h0M686.3 455.6h0M692.8 424.0h0M747.6 591.6h0M1005.6 780.1h0M1017.4 684.2h0M940.2 747.0h0M711.8 435.4h0M772.3 598.3h0M572.5 778.3h0M983.1 741.3h0M978.8 723.6h0M615.4 234.6h0M776.0 255.0h0M769.3 199.9h0M999.9 632.4h0M615.3 417.1h0M626.0 411.7h0M730.8 196.9h0M767.7 217.9h0M617.6 438.1h0M772.5 230.5h0M725.3 441.9h0M388.9 402.0h0M675.1 150.4h0M983.6 755.4h0M953.2 767.2h0M967.7 745.8h0M785.6 600.5h0M504.7 452.0h0M1015.1 742.1h0M582.2 775.6h0M448.0 414.7h0M581.7 758.3h0M998.2 727.7h0M739.4 132.2h0M1040.2 665.4h0M510.2 550.5h0M197.9 537.3h0M701.4 434.6h0M990.1 700.5h0M745.3 132.4h0M835.0 280.9h0M609.1 419.1h0M492.6 453.0h0M1006.5 684.4h0M841.8 288.0h0M1077.4 694.1h0M923.5 733.5h0M787.7 598.5h0M821.9 234.2h0M714.0 473.1h0M631.6 678.3h0M977.2 712.5h0M983.2 734.5h0M507.9 567.4h0M614.2 399.3h0M759.4 189.0h0M967.5 677.3h0M843.3 277.2h0M1007.5 687.3h0M675.6 166.2h0M766.2 590.1h0M1036.1 762.6h0M745.2 146.7h0M927.6 729.0h0M612.1 391.0h0M511.2 452.5h0M719.2 438.0h0M765.4 213.0h0M786.0 585.6h0M800.0 571.3h0M698.1 121.0h0M818.1 224.6h0M509.6 380.3h0M244.0 574.7h0M699.0 251.0h0M646.3 455.1h0M584.6 775.7h0M750.4 536.1h0M939.9 735.9h0M713.1 167.3h0M649.5 694.7h0M957.3 779.4h0M787.5 593.4h0M733.0 177.8h0M421.3 392.0h0M818.3 234.4h0M481.4 562.9h0M1033.6 706.3h0M1024.8 664.8h0M795.2 585.5h0M534.3 552.3h0M795.0 258.0h0M757.3 193.7h0M226.3 541.8h0M1007.5 631.8h0M573.2 766.5h0M707.8 138.6h0M702.2 438.4h0M748.4 170.5h0M927.4 746.1h0M723.7 584.4h0M436.3 535.9h0M515.0 564.4h0M1012.4 668.3h0M746.3 181.2h0M614.9 456.8h0M780.5 590.2h0M998.0 721.4h0M806.1 209.5h0"/>
<path class="c17" d="M1008.2 750.9h0M588.3 756.7h0M632.9 469.5h0M946.3 743.9h0M659.5 452.0h0M765.8 572.5h0M673.8 129.7h0M673.0 120.4h0M788.0 251.0h0M755.1 230.7h0M1028.8 729.6h0M488.6 568.7h0M975.4 714.4h0M201.0 535.0h0M205.0 543.2h0M694.1 451.8h0M783.3 591.4h0M610.4 410.0h0M795.8 583.0h0M526.2 538.4h0M638.7 691.7h0M777.9 580.7h0M1017.6 628.7h0M614.9 410.1h0M573.3 779.8h0M926.4 759.2h0M837.9 285.6h0M612.8 232.5h0M1016.3 685.9h0M627.4 406.3h0M437.7 588.7h0M1030.4 770.7h0M1029.7 747.5h0M439.5 554.2h0M619.4 670.9h0M606.6 235.4h0M936.9 764.7h0M418.7 391.3h0M994.0 715.8h0M999.2 700.7h0M453.7 586.2h0M719.5 431.2h0M719.5 433.9h0M594.7 224.8h0M1037.9 765.0h0M470.2 591.3h0M479.5 578.4h0M733.1 164.7h0M930.7 769.8h0M208.6 505.5h0M596.7 402.2h0M713.8 434.7h0M690.1 149.1h0M564.6 776.4h0M579.4 768.3h0M606.0 719.3h0M569.5 771.5h0M779.8 605.6h0M479.2 574.5h0M803.4 312.9h0M1045.5 703.5h0M755.8 591.2h0M536.0 429.3h0M929.7 751.3h0M768.0 211.3h0M801.9 315.5h0M770.5 557.0h0M443.4 563.8h0M1000.7 768.7h0M762.0 541.3h0M921.1 719.8h0M754.0 241.4h0M696.2 420.2h0M511.3 445.3h0M642.3 458.1h0M694.4 131.5h0M580.0 478.3h0M749.4 598.0h0M789.0 247.0h0M684.4 232.0h0M620.7 646.1h0M1025.1 739.9h0M788.8 589.2h0M709.6 138.7h0M844.8 300.1h0M608.3 700.8h0M639.7 420.0h0M688.4 148.2h0M753.7 212.7h0M776.7 586.0h0M1045.5 764.1h0M607.6 402.3h0M523.4 551.3h0M705.5 118.3h0M951.6 720.8h0M621.0 415.6h0M964.3 776.7h0M591.8 472.0h0M600.9 398.3h0M1065.4 650.4h0M692.9 170.0h0M578.3 491.7h0M647.6 461.6h0M1019.7 773.1h0M214.5 551.5h0M817.2 229.4h0M602.8 423.4h0M449.6 445.3h0M592.8 224.1h0M1045.8 692.5h0M746.4 162.5h0M1028.8 702.0h0M782.6 580.7h0M589.0 468.6h0M699.4 439.6h0M734.0 123.8h0M1054.6 733.0h0M701.3 447.6h0M1040.7 697.8h0M772.9 602.5h0M531.2 443.8h0M729.1 442.1h0M606.1 378.9h0M436.3 582.9h0M605.8 447.3h0M506.1 573.9h0M625.2 428.8h0M646.7 465.0h0M1071.7 645.4h0M522.2 541.5h0M622.8 404.9h0M690.7 137.8h0M616.3 403.2h0M1057.3 725.7h0M523.9 562.5h0M574.9 772.8h0M791.1 309.0h0M436.2 561.7h0M400.1 407.4h0M682.0 233.0h0M467.7 576.5h0M1022.0 744.8h0M605.6 390.6h0M506.1 376.0h0M742.6 184.5h0M1067.6 728.0h0M624.8 399.5h0M669.5 981.5h0M944.1 728.5h0M778.2 596.9h0M1035.7 746.3h0M923.8 743.6h0M568.3 443.3h0M966.5 763.1h0M1067.1 687.9h0M966.7 732.6h0M978.7 781.9h0M478.2 466.2h0M545.5 220.5h0M788.7 581.1h0M754.6 545.1h0M696.3 461.8h0M981.9 711.6h0M1022.1 752.3h0M701.3 459.5h0M991.4 689.3h0M1070.2 643.5h0M560.2 768.0h0M763.8 200.3h0M651.8 670.6h0M651.4 463.7h0M485.8 563.8h0M711.0 158.3h0M554.4 767.3h0M193.0 503.3h0M824.9 229.6h0M709.7 154.8h0M614.4 401.8h0M708.4 124.1h0M1021.0 704.5h0M1008.8 644.1h0M663.9 699.9h0M1034.8 765.3h0M608.7 400.2h0M730.0 151.8h0M736.7 535.3h0M553.3 252.0h0M1068.0 689.8h0M622.1 399.1h0M1044.1 760.5h0M621.8 409.6h0M724.6 440.1h0M701.9 144.7h0M796.4 286.0h0M522.5 545.5h0M1027.6 650.1h0M753.2 186.1h0M928.4 734.7h0M716.4 451.4h0M959.8 754.6h0M1049.3 713.4h0M611.6 402.6h0M746.0 238.4h0M686.7 125.5h0M475.6 564.5h0M1004.7 705.7h0M750.7 593.9h0M695.0 116.7h0M777.8 599.9h0M674.3 142.4h0M519.8 530.2h0M1009.2 702.2h0M761.4 544.6h0M936.5 744.2h0M519.7 551.3h0M943.6 752.3h0M615.0 433.5h0M965.8 717.0h0M965.3 772.0h0M621.5 395.8h0M574.8 769.2h0M966.7 785.6h0M697.8 144.1h0M208.7 519.3h0M759.8 558.1h0M714.8 141.6h0M1047.3 660.0h0M613.4 407.3h0M781.3 204.9h0M176.2 512.6h0M758.6 555.0h0M667.2 127.0h0M1049.7 723.1h0M1042.7 677.4h0M561.7 793.3h0M756.3 540.2h0M1084.2 655.5h0M723.4 133.7h0M463.7 598.4h0M1043.9 700.8h0M708.7 430.2h0M630.9 461.0h0M816.4 310.8h0M1022.8 712.0h0M716.6 442.8h0M435.8 538.2h0M486.1 573.9h0M637.1 414.1h0M702.3 428.8h0M568.8 766.1h0M971.5 742.8h0M556.8 312.1h0M837.3 299.7h0M486.7 559.3h0M706.8 144.0h0M943.1 745.3h0M707.3 440.9h0M750.6 532.6h0M724.2 147.2h0M615.8 385.7h0M956.8 706.8h0M631.0 396.5h0M785.2 580.2h0M1028.4 707.1h0M928.6 722.3h0M786.2 299.5h0M199.6 514.8h0M1023.3 723.6h0M839.8 291.5h0M594.9 392.6h0M600.7 387.6h0M764.2 601.6h0M703.5 178.9h0M773.5 589.6h0M605.5 393.5h0M725.5 446.1h0M482.4 582.2h0M835.5 294.9h0M1023.7 755.6h0M175.0 520.1h0M961.7 767.4h0M1046.9 676.2h0M440.2 585.8h0M962.9 738.7h0M922.8 721.2h0M619.1 411.9h0M602.7 673.7h0M988.3 642.0h0M466.8 580.0h0M252.5 506.2h0M685.6 171.8h0M1058.0 704.8h0M749.3 203.8h0M479.5 565.1h0M1019.0 690.9h0M1002.0 766.0h0"/>
<path class="c18" d="M624.9 236.0h0M719.8 450.1h0M975.0 767.5h0M610.1 413.5h0M729.2 465.2h0M1032.5 751.2h0M744.9 156.3h0M717.5 149.3h0M946.5 736.1h0M720.6 143.8h0M479.3 596.8h0M633.2 403.2h0M1005.4 687.0h0M773.6 561.3h0M483.9 589.3h0M455.5 569.2h0M998.6 718.3h0M810.8 218.5h0M619.7 393.2h0M768.9 561.6h0M1023.4 728.5h0M605.6 405.8h0M689.7 128.5h0M1070.0 682.3h0M768.1 553.3h0M761.8 554.8h0M506.6 546.0h0M999.1 688.6h0M1000.1 683.9h0M558.7 312.5h0M1013.5 624.1h0M1015.1 724.1h0M219.8 519.6h0M617.9 393.2h0M1019.4 703.7h0M925.6 718.1h0M775.8 568.0h0M767.4 551.1h0M726.7 183.3h0M970.6 772.8h0M430.7 531.6h0M804.0 266.0h0M790.0 595.8h0M1025.7 755.6h0M715.3 173.4h0M706.7 154.3h0M618.2 463.5h0M250.0 508.8h0M845.9 284.2h0M431.5 540.0h0M561.2 779.2h0M763.3 592.3h0M770.3 216.3h0M662.0 435.7h0M488.8 571.2h0M944.4 778.0h0M814.9 305.4h0M609.0 434.2h0M203.3 541.0h0M223.4 514.3h0M681.0 251.0h0M553.4 317.0h0M1056.1 744.7h0M623.3 387.8h0M736.2 132.6h0M937.8 756.4h0M745.2 126.5h0M657.3 692.6h0M525.4 552.0h0M935.9 732.0h0M851.8 287.0h0M978.2 671.6h0M750.3 566.7h0M1002.0 737.3h0M689.7 420.0h0M922.3 711.0h0M469.4 589.3h0M843.6 290.9h0M511.9 563.9h0M1036.3 710.5h0M838.6 285.5h0M745.2 200.9h0M703.3 467.8h0M1027.9 735.5h0M722.1 160.6h0M629.0 397.7h0M600.7 400.2h0M561.7 790.0h0M621.3 446.4h0M456.7 593.3h0M567.5 784.2h0M756.6 216.3h0M995.9 718.8h0M987.6 695.8h0M609.6 384.2h0M733.7 596.1h0M712.8 191.7h0M631.5 455.3h0M429.7 550.4h0M756.1 543.2h0M575.0 488.3h0M774.2 219.8h0M607.6 411.6h0M1035.7 687.0h0M812.5 311.5h0M577.5 222.2h0M621.2 467.0h0M599.8 395.4h0M1045.7 750.8h0M436.4 580.7h0M478.0 456.3h0M515.2 542.0h0M225.4 536.3h0M739.0 468.2h0M788.2 294.8h0M1033.7 699.7h0M489.4 456.4h0M555.7 316.8h0M781.8 600.2h0M705.6 185.7h0M674.8 173.9h0M507.0 560.2h0M779.7 554.8h0M745.3 196.6h0M437.9 536.6h0M612.6 414.1h0M983.4 701.6h0M940.8 733.7h0M635.0 662.6h0M171.3 551.3h0M759.2 550.3h0M1015.5 704.0h0M620.7 382.3h0M637.9 678.8h0M606.1 420.3h0M751.7 539.5h0M609.3 421.4h0M566.2 779.8h0M789.2 592.9h0M759.2 604.8h0M749.2 595.3h0M771.7 578.3h0M679.3 140.5h0M581.6 223.4h0M661.7 463.5h0M480.5 591.6h0M754.8 195.2h0M518.3 546.3h0M943.6 760.2h0M623.4 412.0h0M837.0 227.1h0M699.3 425.3h0M791.4 586.4h0M798.2 586.9h0M996.9 762.1h0M755.3 607.5h0M607.1 381.3h0M551.9 764.9h0M576.7 481.7h0M609.5 411.8h0M642.3 460.4h0M630.8 406.4h0M737.9 591.7h0M722.6 454.2h0M675.9 444.0h0M798.4 309.5h0M578.0 781.9h0M564.9 771.0h0M771.3 602.5h0M600.5 465.1h0M781.5 602.3h0M989.1 707.6h0M767.5 557.3h0M840.1 282.4h0M618.5 394.9h0M638.9 413.7h0M460.2 579.0h0M959.3 734.5h0M770.9 586.5h0M705.6 465.4h0M800.3 585.0h0M1040.1 658.2h0M735.9 138.5h0M621.6 693.2h0M991.8 701.8h0M465.4 595.9h0M206.4 523.1h0M819.6 227.3h0M548.8 433.5h0M404.0 386.0h0M726.9 146.7h0M636.8 452.7h0M784.0 248.0h0M798.0 581.4h0M208.7 510.0h0M727.9 191.3h0M609.1 408.3h0M633.2 407.5h0M552.7 319.8h0M786.8 583.7h0M773.2 597.8h0M752.0 221.6h0M559.0 311.8h0M770.1 554.0h0M579.3 774.5h0M726.0 588.9h0M818.5 312.0h0M965.3 683.7h0M677.5 441.9h0M776.9 589.0h0M470.8 464.6h0M636.3 410.0h0M1048.1 757.4h0M958.7 736.4h0M1007.5 762.8h0M608.9 390.0h0M1038.0 750.0h0M957.0 752.0h0M1067.2 682.2h0M790.6 230.8h0M243.3 572.0h0M177.4 558.5h0M969.7 731.1h0M500.4 579.4h0M709.7 452.8h0M837.0 306.0h0M615.5 381.3h0M987.8 736.5h0M570.8 443.0h0M747.5 563.0h0M510.0 456.0h0M764.8 197.1h0M518.4 552.2h0"/>
<path class="c19" d="M816.5 321.1h0M523.3 411.7h0M724.7 136.4h0M556.9 315.1h0M756.3 549.9h0M834.7 237.4h0M714.0 152.4h0M711.0 180.3h0M560.3 311.2h0M1024.6 699.6h0M848.3 291.4h0M759.0 271.6h0M969.6 763.8h0M785.0 592.4h0M817.1 289.0h0M616.4 693.0h0M765.4 604.5h0M968.8 725.6h0M635.4 405.0h0M925.4 753.1h0M1060.0 701.5h0M772.3 560.0h0M753.8 555.1h0M959.3 717.2h0M647.7 673.4h0M790.7 606.2h0M965.0 730.1h0M1047.5 727.7h0M630.3 442.2h0M1015.7 740.4h0M764.4 586.2h0M768.0 228.4h0M671.0 982.5h0M515.8 549.3h0M778.7 586.3h0M596.7 248.5h0M751.9 596.8h0M818.1 244.3h0M683.5 455.4h0M194.7 552.2h0M609.9 655.3h0M978.9 719.9h0M810.1 301.1h0M561.9 309.8h0M448.8 592.4h0M645.9 458.1h0M433.5 541.4h0M776.1 599.6h0M975.5 748.2h0M784.4 590.5h0M1027.0 700.7h0M606.6 696.3h0M1087.3 686.5h0M610.3 440.1h0M627.1 396.4h0M754.0 603.5h0M1047.1 719.8h0M596.8 397.6h0M551.6 317.5h0M466.0 594.3h0M971.9 753.9h0M690.6 140.7h0M453.6 565.4h0M748.3 560.3h0M842.8 296.4h0M758.1 553.4h0M614.0 388.4h0M701.0 172.4h0M939.0 723.0h0M933.8 761.0h0M732.4 186.9h0M744.0 598.0h0M1066.9 716.0h0M641.4 410.2h0M611.1 232.9h0M767.5 590.7h0M846.5 288.1h0M753.4 277.4h0M602.4 383.6h0M728.7 141.9h0M596.8 388.4h0M778.8 594.0h0M684.0 250.0h0M524.1 531.2h0M842.5 289.4h0M963.4 722.0h0M439.9 563.7h0M800.0 264.0h0M943.6 756.7h0M928.0 716.9h0M718.1 127.8h0M698.4 172.4h0M634.2 657.5h0M618.3 699.8h0M794.2 208.4h0M443.1 550.3h0M950.0 749.0h0M700.8 470.0h0M768.0 218.8h0M796.0 584.9h0M767.2 593.2h0M733.7 591.8h0M781.8 604.0h0M817.2 215.0h0M627.5 695.8h0M639.4 461.1h0M602.0 402.3h0M775.0 571.7h0M980.5 778.3h0M510.0 578.6h0M791.2 593.4h0M637.4 403.8h0M589.2 458.5h0M1017.5 698.5h0M999.2 775.8h0M809.6 267.6h0M1044.7 733.3h0M1057.1 685.5h0M565.2 762.9h0M617.6 657.8h0M845.0 285.3h0M773.0 200.5h0M598.1 404.3h0M781.1 592.4h0M624.7 419.0h0M450.7 577.0h0M604.2 691.5h0M773.8 601.9h0M688.1 439.4h0M761.1 219.6h0M628.3 443.3h0M545.0 439.2h0M580.7 780.7h0M770.9 226.4h0M845.1 294.9h0"/>
<path class="c20" d="M840.4 222.7h0M734.9 595.1h0M786.5 221.5h0M763.1 213.1h0M802.0 244.4h0M549.5 322.3h0M720.5 176.0h0M913.3 698.7h0M466.1 571.0h0M844.1 304.6h0M779.2 602.9h0M468.7 593.4h0M619.3 398.1h0M487.0 584.1h0M721.5 464.5h0M750.5 592.3h0M655.8 432.5h0M762.3 597.1h0M577.5 772.4h0M841.6 297.5h0M813.9 218.7h0M673.3 442.5h0M576.8 768.5h0M709.5 463.6h0M736.7 598.0h0M753.6 533.8h0M972.5 735.3h0M616.0 388.2h0M518.7 538.7h0M755.8 557.3h0M765.6 558.2h0M756.4 595.2h0M946.8 764.6h0M516.8 539.1h0M637.5 457.3h0M1002.1 749.1h0M781.3 584.1h0M699.6 144.8h0M770.7 561.8h0M972.9 764.3h0M440.6 552.9h0M641.3 706.9h0M983.6 682.2h0M795.0 594.3h0M756.0 274.0h0M599.7 456.6h0M670.0 983.5h0M601.6 408.2h0M646.8 683.9h0M582.8 771.2h0M1026.7 737.7h0M817.8 238.4h0M555.0 314.5h0M547.3 320.2h0M1003.9 752.1h0M757.1 604.3h0M562.9 775.9h0M977.0 768.2h0M553.6 315.9h0M558.9 765.9h0M787.0 581.8h0M770.4 582.7h0M602.0 396.5h0M633.9 696.4h0M972.2 737.5h0M841.1 299.4h0M464.1 587.4h0M1017.1 671.3h0M782.4 597.9h0M983.3 744.4h0M783.3 583.3h0M540.8 444.5h0M626.9 408.7h0M776.0 583.9h0M923.3 720.4h0M561.5 310.8h0M773.4 555.8h0M520.0 567.8h0M222.0 504.0h0M773.3 587.9h0M788.4 609.5h0M672.0 455.0h0M794.0 596.2h0M791.8 304.5h0M521.5 539.0h0M1043.9 723.2h0M551.9 767.0h0M774.1 584.4h0M658.5 434.0h0"/>
<path class="c21" d="M595.6 442.2h0M848.6 284.0h0M971.8 731.6h0M614.9 686.4h0M550.9 321.0h0M738.8 458.2h0M855.8 279.7h0M731.7 457.5h0M663.6 453.2h0M505.5 552.7h0M226.9 523.9h0M600.2 391.3h0M453.7 572.7h0M1029.7 742.0h0M772.0 554.4h0M1018.8 696.5h0M610.5 450.8h0M724.0 448.9h0M792.9 581.9h0M519.8 560.9h0M732.2 192.3h0M790.3 599.8h0M696.9 425.2h0M434.3 561.4h0M952.1 733.0h0M830.9 224.3h0M627.0 386.7h0M1023.5 736.8h0M950.0 773.8h0M929.9 709.7h0M925.4 761.4h0M671.5 984.2h0M520.7 542.6h0M692.6 180.2h0M632.5 691.7h0M632.7 428.4h0M492.9 554.4h0M732.8 530.3h0M849.1 276.8h0M754.2 191.4h0M464.2 572.8h0M620.4 399.7h0M671.3 450.0h0M760.9 539.9h0M622.5 658.3h0M1008.0 774.2h0M684.2 430.5h0M702.1 158.0h0M776.8 588.9h0M704.6 131.4h0M679.7 176.4h0M944.2 767.3h0M765.5 221.2h0M721.0 137.7h0M937.8 772.5h0M989.8 720.3h0M556.6 766.6h0M834.0 294.7h0M778.2 598.3h0M965.8 703.4h0M851.0 281.3h0"/>
<path class="c22" d="M795.6 591.5h0M501.1 560.4h0M1036.3 677.7h0M788.4 298.4h0M651.5 458.3h0M617.1 682.6h0M753.5 542.8h0M745.7 596.1h0M795.1 297.6h0M835.4 287.3h0M771.7 589.3h0M820.2 288.0h0M614.1 694.0h0M1040.8 716.1h0M771.5 596.0h0M767.2 213.1h0M679.9 148.2h0M960.6 780.1h0M731.0 187.4h0M951.2 731.3h0M612.7 685.6h0M780.0 600.0h0M682.0 249.0h0M798.7 579.7h0M787.0 579.9h0M834.0 277.1h0M952.7 703.1h0M542.0 445.5h0M773.9 595.9h0M780.6 593.8h0M763.5 594.9h0M734.4 193.2h0M1013.4 772.3h0M1055.3 696.6h0M760.0 545.4h0M512.1 561.0h0M779.3 601.4h0M437.0 556.3h0M750.9 600.1h0M642.9 411.5h0M550.8 253.3h0"/>
<path class="c23" d="M852.6 283.5h0M747.3 599.7h0M835.7 296.5h0M793.4 594.1h0M798.9 584.3h0M701.0 241.6h0M752.0 200.0h0M414.7 394.0h0M925.0 709.4h0M783.6 587.4h0M846.5 279.5h0M796.4 589.4h0"/>
<path class="c24" d="M449.2 544.2h0M768.7 588.3h0M786.1 589.1h0M782.1 598.7h0M766.6 240.8h0M828.1 234.3h0M646.4 669.0h0M786.6 591.5h0M765.7 598.7h0M770.4 199.6h0M459.8 597.1h0M758.8 543.1h0M629.2 418.5h0M753.7 599.3h0M765.2 215.7h0M739.6 595.8h0M847.0 299.0h0"/>
<path class="c25" d="M726.0 193.0h0"/>
<path class="c27" d="M779.2 590.0h0M798.3 580.8h0"/>
<path class="c28" d="M771.3 595.0h0"/>
<path class="c29" d="M738.0 597.5h0"/>
</g>
<!-- axes -->
<g stroke="#000" stroke-width="3.3" fill="none">
<path d="M95.7 51V1119.3"/>
<path d="M94.2 1119.3H1138.8"/>
</g>
<g stroke="#000" stroke-width="2.8" fill="none">
<path d="M90 277H95M90 571H95M90 865H95"/>
<path d="M142.7 1120V1124.5M311.8 1120V1124.5M480.9 1120V1124.5M650 1120V1124.5M819.1 1120V1124.5M988.2 1120V1124.5"/>
</g>
<g font-size="29" text-anchor="end">
<text x="88.3" y="287.5">10</text>
<text x="88.3" y="581.5">0</text>
<text x="88.3" y="875.5">-10</text>
</g>
<g font-size="29" text-anchor="middle">
<text x="142.7" y="1147.3">-15</text>
<text x="311.8" y="1147.3">-10</text>
<text x="480.9" y="1147.3">-5</text>
<text x="650" y="1147.3">0</text>
<text x="819.1" y="1147.3">5</text>
<text x="988.2" y="1147.3">10</text>
</g>
<text x="614" y="1181" font-size="29.6" text-anchor="middle">umapNC_1</text>
<text transform="translate(33.2,585.5) rotate(-90)" font-size="30.2" text-anchor="middle">umapNC_2</text>
<text x="616" y="37" font-size="34" font-weight="bold" text-anchor="middle">Gmfg</text>
<!-- legend -->
<rect x="1151.3" y="547.7" width="15.4" height="76.3" fill="url(#lg)"/>
<g stroke="#fff" stroke-width="0.8" opacity="0.6"><path d="M1151.3 572.4h3M1163.7 572.4h3M1151.3 598.5h3M1163.7 598.5h3"/></g>
<g font-size="25.3">
<text x="1174" y="581.7">2</text>
<text x="1174" y="607.8">1</text>
<text x="1174" y="633.5">0</text>
</g>
</svg>
</body></html>
